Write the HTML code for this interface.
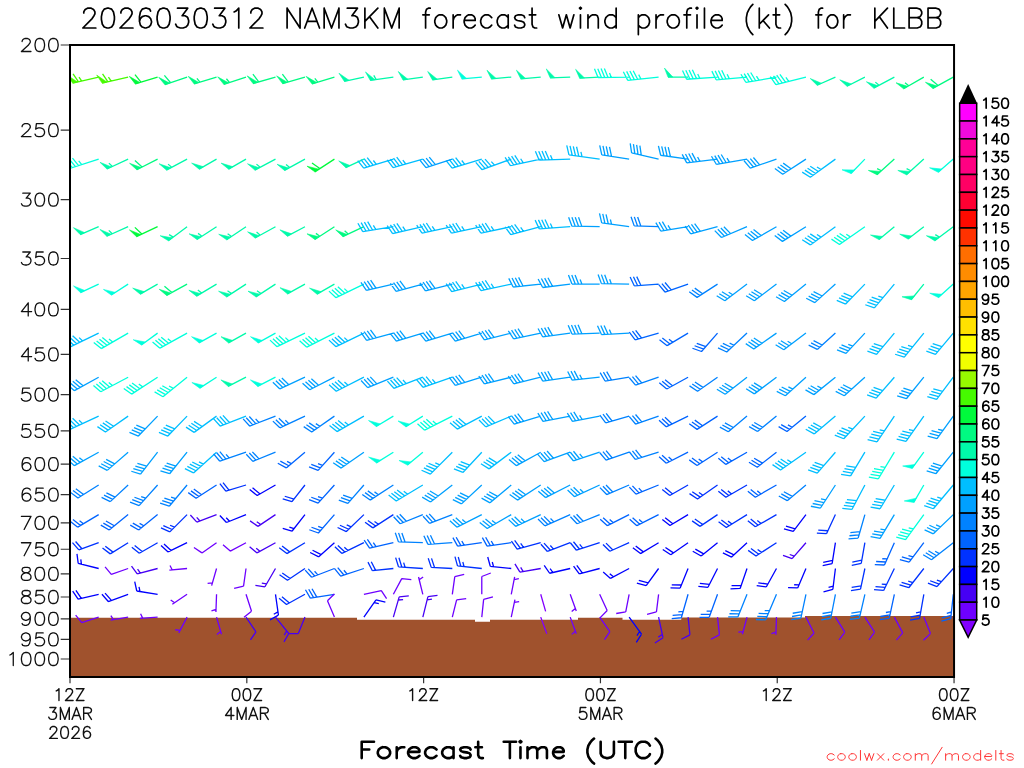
<!DOCTYPE html>
<html><head><meta charset="utf-8"><title>2026030312 NAM3KM forecast wind profile (kt) for KLBB</title>
<style>
html,body{margin:0;padding:0;background:#fff;overflow:hidden}
body{width:1024px;height:768px;position:relative;font-family:"Liberation Sans",sans-serif}
svg{position:absolute;left:0;top:0;display:block}
.t{position:absolute;color:transparent;font-family:"Liberation Sans",sans-serif;white-space:nowrap;margin:0;line-height:1}
</style></head><body>
<svg width="1024" height="768" viewBox="0 0 1024 768">
<rect width="1024" height="768" fill="#fff"/>
<path d="M70 677L70 617.75L357 617.75L357 619.75L475 619.75L475 621.75L490 621.75L490 619.75L578 619.75L578 617.75L622.5 617.75L622.5 619.75L681.25 619.75L681.25 617.6L805 617.6L805 616.1L954.05 616.1L954.05 677Z" fill="#a0522d"/>
<clipPath id="fc"><rect x="70" y="45" width="884.05" height="632"/></clipPath>
<g clip-path="url(#fc)" fill="none" stroke-width="1.3" stroke-linecap="butt" stroke-linejoin="miter">
<path d="M98.67 77.1L72.65 83.11M78.5 81.76l-5.43 -7.98M81.72 81.01l-2.72 -3.99M128.14 77.1L102.12 83.11M107.97 81.76l-5.43 -7.98M111.19 81.01l-2.72 -3.99" stroke="#46fa00"/>
<path d="M157.61 77.1L135.23 83.94M140.97 82.19l-5.98 -7.58M334.43 159.1L314.81 171.84M319.84 168.58l-7.84 -5.64M157.61 226.7L136.4 236.59M141.84 234.05l-6.98 -6.68" stroke="#00fa3c"/>
<path d="M187.08 77.1L164.95 84.72M170.63 82.76l-6.24 -7.37M216.55 77.1L194.17 83.94M199.91 82.19l-2.99 -3.79M246.02 77.1L223.77 84.33M229.47 82.48l-3.05 -3.74M275.49 77.1L253 83.55M258.76 81.9l-5.85 -7.69M304.96 77.1L282.47 83.55M288.23 81.9l-5.85 -7.69M334.43 77.1L312.05 83.94M317.79 82.19l-2.99 -3.79M923.83 77.1L903.57 88.8M908.76 85.8l-3.77 -3.02M953.3 77.1L932.83 88.44M938.08 85.54l-7.42 -6.17M157.61 159.1L136.76 169.72M142.11 167l-7.2 -6.43M894.36 159.1L876.97 174.76M881.43 170.74l-4.31 -2.17M334.43 226.7L314.81 239.44M319.84 236.18l-3.92 -2.82M363.9 226.7L342.69 236.59M348.13 234.05l-3.49 -3.34M187.08 284.1L166.61 295.44M171.86 292.54l-7.42 -6.17" stroke="#00fa82"/>
<path d="M363.9 77.1L344.24 81.28M393.37 77.1L370.2 80.36M376.14 79.52l-2.36 -4.21M422.84 77.1L402.94 79.9M452.31 77.1L432.41 79.9M511.25 77.1L491.23 78.85M540.72 77.1L520.7 78.85M570.19 77.1L550.1 77.8M599.66 77.1L579.59 78.15M688.07 77.1L667.97 77.1M835.42 77.1L817.06 85.28M864.89 77.1L846.98 86.23M894.36 77.1L873.7 88.09M879 85.27l-3.66 -3.15M128.14 159.1L106.93 168.99M112.37 166.45l-3.49 -3.34M187.08 159.1L166.42 170.09M171.72 167.27l-3.66 -3.15M216.55 159.1L199.14 169.15M246.02 159.1L228.61 169.15M275.49 159.1L254.83 170.09M260.13 167.27l-3.66 -3.15M304.96 159.1L284.49 170.44M289.74 167.54l-3.71 -3.09M363.9 159.1L345.68 167.59M923.83 159.1L906.44 174.76M910.9 170.74l-4.31 -2.17M98.67 226.7L80.17 234.55M128.14 226.7L106.76 236.22M112.24 233.78l-3.43 -3.4M187.08 226.7L168.39 240.78M173.18 237.17l-4.11 -2.54M216.55 226.7L196.93 239.44M201.96 236.18l-3.92 -2.82M246.02 226.7L226.62 239.79M231.59 236.43l-3.97 -2.75M275.49 226.7L255.02 238.04M260.27 235.14l-3.71 -3.09M304.96 226.7L287.21 236.14M894.36 226.7L878.96 239.62M923.83 226.7L907.99 239.07M953.3 226.7L934.61 240.78M939.4 237.17l-4.11 -2.54M157.61 284.1L140.2 294.15M216.55 284.1L196.49 296.15M201.64 293.06l-3.82 -2.96M246.02 284.1L226.4 296.84M231.43 293.58l-3.92 -2.82M275.49 284.1L255.87 296.84M260.9 293.58l-3.92 -2.82M304.96 284.1L287.38 293.84M334.43 284.1L317.02 294.15M923.83 284.1L911.18 299.72M246.02 333.1L228.44 342.84M246.02 377.2L228.11 386.33" stroke="#00faaa"/>
<path d="M481.78 77.1L461.76 78.85M629.13 77.1L598.13 77.64M598.13 77.64l-3.66 -8.94M601.43 77.58l-3.66 -8.94M604.73 77.53l-3.66 -8.94M608.03 77.47l-3.66 -8.94M611.33 77.41l-1.83 -4.47M658.6 77.1L627.77 80.34M627.77 80.34l-4.42 -8.58M631.05 80l-4.42 -8.58M634.33 79.65l-4.42 -8.58M637.62 79.31l-4.42 -8.58M640.9 78.96l-2.21 -4.29M717.54 77.1L686.62 79.26M686.62 79.26l-4.12 -8.73M689.91 79.03l-4.12 -8.73M693.2 78.8l-4.12 -8.73M696.49 78.57l-4.12 -8.73M699.78 78.34l-2.06 -4.37M747.01 77.1L716.13 79.8M716.13 79.8l-4.27 -8.66M719.42 79.51l-4.27 -8.66M722.7 79.23l-4.27 -8.66M725.99 78.94l-4.27 -8.66M729.28 78.65l-2.14 -4.33M776.48 77.1L745.95 82.48M745.95 82.48l-5.01 -8.26M749.2 81.91l-5.01 -8.26M752.45 81.34l-5.01 -8.26M755.7 80.76l-5.01 -8.26M758.95 80.19l-2.5 -4.13M805.95 77.1L775.87 84.6M775.87 84.6l-5.57 -7.89M779.07 83.8l-5.57 -7.89M782.27 83l-5.57 -7.89M785.48 82.2l-5.57 -7.89M788.68 81.41l-2.79 -3.94M98.67 159.1L69.19 168.68M69.19 168.68l-6.11 -7.48M72.33 167.66l-6.11 -7.48M75.46 166.64l-6.11 -7.48M78.6 165.62l-6.11 -7.48M81.74 164.6l-3.05 -3.74M864.89 159.1L850.93 173.56M953.3 159.1L938.13 172.29M864.89 226.7L839.5 244.48M839.5 244.48l-8.03 -5.36M842.2 242.59l-8.03 -5.36M844.9 240.7l-8.03 -5.36M847.61 238.8l-8.03 -5.36M850.31 236.91l-4.01 -2.68M98.67 284.1L80.45 292.59M128.14 284.1L111.28 295.05M363.9 284.1L336.04 297.69M336.04 297.69l-7.09 -6.55M339 296.24l-7.09 -6.55M341.97 294.8l-7.09 -6.55M344.94 293.35l-7.09 -6.55M347.9 291.9l-3.55 -3.28M953.3 284.1L938.36 297.55M128.14 333.1L101.29 348.6M101.29 348.6l-7.53 -6.04M104.15 346.95l-7.53 -6.04M107.01 345.3l-7.53 -6.04M109.87 343.65l-7.53 -6.04M112.72 342l-3.77 -3.02M157.61 333.1L141.35 344.91M187.08 333.1L159.97 348.13M159.97 348.13l-7.42 -6.17M162.85 346.53l-7.42 -6.17M165.74 344.93l-7.42 -6.17M168.63 343.33l-7.42 -6.17M171.51 341.73l-3.71 -3.09M216.55 333.1L198.97 342.84M275.49 333.1L257.91 342.84M304.96 333.1L277.1 346.69M277.1 346.69l-7.09 -6.55M280.06 345.24l-7.09 -6.55M283.03 343.8l-7.09 -6.55M286 342.35l-7.09 -6.55M288.96 340.9l-3.55 -3.28M334.43 333.1L306.81 347.17M306.81 347.17l-7.2 -6.43M309.75 345.68l-7.2 -6.43M312.69 344.18l-7.2 -6.43M315.63 342.68l-7.2 -6.43M318.57 341.18l-3.6 -3.22M128.14 377.2L100.77 391.75M100.77 391.75l-7.32 -6.3M103.68 390.2l-7.32 -6.3M106.6 388.66l-7.32 -6.3M109.51 387.11l-7.32 -6.3M112.42 385.56l-3.66 -3.15M157.61 377.2L131.61 394.08M131.61 394.08l-7.84 -5.64M134.38 392.29l-7.84 -5.64M137.15 390.49l-7.84 -5.64M139.91 388.69l-7.84 -5.64M142.68 386.89l-3.92 -2.82M187.08 377.2L162.99 396.71M162.99 396.71l-8.38 -4.79M165.55 394.63l-8.38 -4.79M168.12 392.56l-8.38 -4.79M170.68 390.48l-8.38 -4.79M173.25 388.4l-4.19 -2.4M216.55 377.2L199.69 388.15M275.49 377.2L257.58 386.33M393.37 416.1L376.14 426.45M422.84 416.1L405.79 426.75M452.31 416.1L424.69 430.17M424.69 430.17l-7.2 -6.43M427.63 428.68l-7.2 -6.43M430.57 427.18l-7.2 -6.43M433.51 425.68l-7.2 -6.43M436.45 424.18l-3.6 -3.22M393.37 452.2L376.32 462.85M422.84 452.2L407.44 465.12M894.36 452.2L878.39 478.77M878.39 478.77l-9.52 -1.64M880.09 475.94l-9.52 -1.64M881.79 473.11l-9.52 -1.64M883.49 470.29l-9.52 -1.64M885.19 467.46l-4.76 -0.82M923.83 452.2L912.02 468.46M923.83 485L913.78 502.41M923.83 514.6L905.61 539.68M905.61 539.68l-9.34 -2.46M907.55 537.01l-9.34 -2.46M909.49 534.34l-9.34 -2.46M911.43 531.67l-9.34 -2.46M913.37 529l-4.67 -1.23" stroke="#00ffdc"/>
<path d="M393.37 159.1L363.72 168.16M363.72 168.16l-5.98 -7.58M366.88 167.2l-5.98 -7.58M370.04 166.23l-5.98 -7.58M373.19 165.27l-5.98 -7.58M376.35 164.3l-2.99 -3.79M422.84 159.1L393.04 167.64M393.04 167.64l-5.85 -7.69M396.21 166.74l-5.85 -7.69M399.39 165.83l-5.85 -7.69M402.56 164.92l-5.85 -7.69M405.73 164.01l-2.92 -3.84M481.78 159.1L452.13 168.16M452.13 168.16l-5.98 -7.58M455.29 167.2l-5.98 -7.58M458.45 166.23l-5.98 -7.58M461.6 165.27l-5.98 -7.58M464.76 164.3l-2.99 -3.79M511.25 159.1L482.12 169.7M482.12 169.7l-6.37 -7.26M485.22 168.57l-6.37 -7.26M488.32 167.45l-6.37 -7.26M491.42 166.32l-6.37 -7.26M494.52 165.19l-3.18 -3.63M540.72 159.1L510.4 165.55M510.4 165.55l-5.29 -8.08M513.63 164.86l-5.29 -8.08M516.85 164.17l-5.29 -8.08M520.08 163.49l-5.29 -8.08M523.31 162.8l-2.65 -4.04M570.19 159.1L539.21 160.18M539.21 160.18l-3.81 -8.87M542.51 160.07l-3.81 -8.87M545.8 159.95l-3.81 -8.87M549.1 159.84l-3.81 -8.87M552.4 159.72l-1.91 -4.44M599.66 159.1L568.96 154.79M568.96 154.79l-2.21 -9.4M572.23 155.24l-2.21 -9.4M575.5 155.7l-2.21 -9.4M578.77 156.16l-2.21 -9.4M582.03 156.62l-1.11 -4.7M835.42 159.1L810.34 177.32M810.34 177.32l-8.12 -5.22M813.01 175.38l-8.12 -5.22M815.68 173.44l-8.12 -5.22M818.35 171.5l-8.12 -5.22M821.02 169.56l-4.06 -2.61M393.37 226.7L362.75 231.55M362.75 231.55l-4.86 -8.34M366.01 231.03l-4.86 -8.34M369.27 230.52l-4.86 -8.34M372.53 230l-4.86 -8.34M375.79 229.48l-2.43 -4.17M422.84 226.7L392.63 233.67M392.63 233.67l-5.43 -7.98M395.85 232.93l-5.43 -7.98M399.07 232.19l-5.43 -7.98M402.28 231.45l-5.43 -7.98M405.5 230.7l-2.72 -3.99M452.31 226.7L421.99 233.15M421.99 233.15l-5.29 -8.08M425.22 232.46l-5.29 -8.08M428.44 231.77l-5.29 -8.08M431.67 231.09l-5.29 -8.08M434.9 230.4l-2.65 -4.04M481.78 226.7L451.46 233.15M451.46 233.15l-5.29 -8.08M454.69 232.46l-5.29 -8.08M457.91 231.77l-5.29 -8.08M461.14 231.09l-5.29 -8.08M464.37 230.4l-2.65 -4.04M511.25 226.7L480.93 233.15M480.93 233.15l-5.29 -8.08M484.16 232.46l-5.29 -8.08M487.38 231.77l-5.29 -8.08M490.61 231.09l-5.29 -8.08M493.84 230.4l-2.65 -4.04M540.72 226.7L510.78 234.72M510.78 234.72l-5.71 -7.79M513.96 233.87l-5.71 -7.79M517.15 233.02l-5.71 -7.79M520.34 232.16l-5.71 -7.79M523.53 231.31l-2.86 -3.89M570.19 226.7L539.27 228.86M539.27 228.86l-4.12 -8.73M542.56 228.63l-4.12 -8.73M545.85 228.4l-4.12 -8.73M549.14 228.17l-4.12 -8.73M552.43 227.94l-2.06 -4.37M835.42 226.7L810.34 244.92M810.34 244.92l-8.12 -5.22M813.01 242.98l-8.12 -5.22M815.68 241.04l-8.12 -5.22M818.35 239.1l-8.12 -5.22M821.02 237.16l-4.06 -2.61M481.78 284.1L451.7 291.6M451.7 291.6l-5.57 -7.89M454.9 290.8l-5.57 -7.89M458.1 290l-5.57 -7.89M461.31 289.2l-5.57 -7.89M464.51 288.41l-2.79 -3.94M511.25 284.1L480.93 290.55M480.93 290.55l-5.29 -8.08M484.16 289.86l-5.29 -8.08M487.38 289.17l-5.29 -8.08M490.61 288.49l-5.29 -8.08M493.84 287.8l-2.65 -4.04M864.89 284.1L845.65 304.03M845.65 304.03l-8.91 -3.73M847.94 301.65l-8.91 -3.73M850.23 299.28l-8.91 -3.73M852.53 296.9l-8.91 -3.73M894.36 284.1L874.43 307.85M874.43 307.85l-9.14 -3.1M876.55 305.32l-9.14 -3.1M878.68 302.79l-9.14 -3.1M880.8 300.26l-9.14 -3.1M882.92 297.74l-4.57 -1.55M98.67 333.1L70.81 346.69M70.81 346.69l-7.09 -6.55M73.77 345.24l-7.09 -6.55M76.74 343.8l-7.09 -6.55M79.71 342.35l-7.09 -6.55M82.67 340.9l-3.55 -3.28M363.9 333.1L336.04 346.69M336.04 346.69l-7.09 -6.55M339 345.24l-7.09 -6.55M341.97 343.8l-7.09 -6.55M344.94 342.35l-7.09 -6.55M347.9 340.9l-3.55 -3.28M894.36 333.1L876.55 354.32M876.55 354.32l-9.14 -3.1M878.68 351.79l-9.14 -3.1M880.8 349.26l-9.14 -3.1M882.92 346.74l-9.14 -3.1M923.83 333.1L904.32 357.19M904.32 357.19l-9.2 -2.94M906.4 354.63l-9.2 -2.94M908.47 352.06l-9.2 -2.94M910.55 349.5l-9.2 -2.94M912.63 346.93l-4.6 -1.47M953.3 333.1L935.49 354.32M935.49 354.32l-9.14 -3.1M937.62 351.79l-9.14 -3.1M939.74 349.26l-9.14 -3.1M941.86 346.74l-9.14 -3.1M363.9 377.2L336.28 391.27M336.28 391.27l-7.2 -6.43M339.22 389.78l-7.2 -6.43M342.16 388.28l-7.2 -6.43M345.1 386.78l-7.2 -6.43M348.04 385.28l-3.6 -3.22M422.84 377.2L393.9 388.31M393.9 388.31l-6.49 -7.15M396.98 387.13l-6.49 -7.15M400.06 385.94l-6.49 -7.15M403.14 384.76l-6.49 -7.15M406.22 383.58l-3.25 -3.57M452.31 377.2L423 387.29M423 387.29l-6.24 -7.37M426.12 386.22l-6.24 -7.37M429.24 385.14l-6.24 -7.37M432.36 384.07l-6.24 -7.37M435.48 383l-3.12 -3.69M894.36 377.2L876.19 398.11M876.19 398.11l-9.09 -3.26M878.35 395.61l-9.09 -3.26M880.52 393.12l-9.09 -3.26M882.68 390.63l-9.09 -3.26M953.3 377.2L936.63 399.32M936.63 399.32l-9.29 -2.62M938.62 396.69l-9.29 -2.62M940.6 394.05l-9.29 -2.62M942.59 391.42l-9.29 -2.62M98.67 416.1L70.57 429.2M70.57 429.2l-6.98 -6.68M73.57 427.81l-6.98 -6.68M76.56 426.41l-6.98 -6.68M79.55 425.02l-6.98 -6.68M82.54 423.62l-3.49 -3.34M128.14 416.1L105.45 431.99M105.45 431.99l-8.03 -5.36M108.15 430.1l-8.03 -5.36M110.86 428.2l-8.03 -5.36M113.56 426.31l-8.03 -5.36M187.08 416.1L167.84 436.03M167.84 436.03l-8.91 -3.73M170.13 433.65l-8.91 -3.73M172.42 431.28l-8.91 -3.73M174.72 428.9l-8.91 -3.73M216.55 416.1L194.14 432.38M194.14 432.38l-8.12 -5.22M196.81 430.44l-8.12 -5.22M199.48 428.5l-8.12 -5.22M202.15 426.56l-8.12 -5.22M246.02 416.1L220.16 426.03M220.16 426.03l-6.49 -7.15M223.24 424.84l-6.49 -7.15M226.32 423.66l-6.49 -7.15M229.4 422.48l-6.49 -7.15M363.9 416.1L337.05 431.6M337.05 431.6l-7.53 -6.04M339.91 429.95l-7.53 -6.04M342.77 428.3l-7.53 -6.04M345.63 426.65l-7.53 -6.04M348.48 425l-3.77 -3.02M481.78 416.1L457.32 429.1M457.32 429.1l-7.32 -6.3M460.24 427.56l-7.32 -6.3M463.15 426.01l-7.32 -6.3M466.06 424.46l-7.32 -6.3M511.25 416.1L485.75 426.92M485.75 426.92l-6.74 -6.92M488.79 425.63l-6.74 -6.92M491.83 424.34l-6.74 -6.92M494.87 423.06l-6.74 -6.92M835.42 416.1L814.2 433.91M814.2 433.91l-8.47 -4.64M816.73 431.78l-8.47 -4.64M819.26 429.66l-8.47 -4.64M821.78 427.54l-8.47 -4.64M864.89 416.1L843.75 438.77M843.75 438.77l-8.97 -3.58M846 436.36l-8.97 -3.58M848.25 433.95l-8.97 -3.58M850.5 431.53l-8.97 -3.58M852.75 429.12l-4.48 -1.79M894.36 416.1L877.03 441.8M877.03 441.8l-9.42 -2.13M878.87 439.06l-9.42 -2.13M880.72 436.33l-9.42 -2.13M882.56 433.59l-9.42 -2.13M884.41 430.86l-4.71 -1.07M923.83 416.1L906.05 441.49M906.05 441.49l-9.38 -2.3M907.94 438.79l-9.38 -2.3M909.83 436.09l-9.38 -2.3M911.73 433.38l-9.38 -2.3M913.62 430.68l-4.69 -1.15M216.55 452.2L193.51 472.94M193.51 472.94l-8.62 -4.35M195.96 470.73l-8.62 -4.35M198.42 468.53l-8.62 -4.35M200.87 466.32l-8.62 -4.35M203.32 464.11l-4.31 -2.17M452.31 452.2L430.39 474.12M430.39 474.12l-8.84 -3.89M432.72 471.79l-8.84 -3.89M435.06 469.45l-8.84 -3.89M437.39 467.12l-8.84 -3.89M439.72 464.79l-4.42 -1.94M481.78 452.2L462.89 472.46M462.89 472.46l-8.97 -3.58M465.14 470.05l-8.97 -3.58M467.39 467.63l-8.97 -3.58M469.64 465.22l-8.97 -3.58M511.25 452.2L489.13 468.87M489.13 468.87l-8.21 -5.08M491.76 466.88l-8.21 -5.08M494.4 464.9l-8.21 -5.08M497.03 462.91l-8.21 -5.08M805.95 452.2L780.56 469.98M780.56 469.98l-8.03 -5.36M783.26 468.09l-8.03 -5.36M785.96 466.2l-8.03 -5.36M788.67 464.3l-8.03 -5.36M791.37 462.41l-4.01 -2.68M835.42 452.2L817.25 473.11M817.25 473.11l-9.09 -3.26M819.41 470.61l-9.09 -3.26M821.58 468.12l-9.09 -3.26M823.74 465.63l-9.09 -3.26M864.89 452.2L850.62 475.94M850.62 475.94l-9.52 -1.64M852.32 473.11l-9.52 -1.64M854.02 470.29l-9.52 -1.64M855.72 467.46l-9.52 -1.64M422.84 485L396.27 500.97M396.27 500.97l-7.64 -5.91M399.1 499.27l-7.64 -5.91M401.93 497.57l-7.64 -5.91M404.75 495.87l-7.64 -5.91M407.58 494.17l-3.82 -2.96M864.89 485L851.89 509.46M851.89 509.46l-9.59 -1.13M853.43 506.54l-9.59 -1.13M854.98 503.63l-9.59 -1.13M856.53 500.72l-9.59 -1.13M894.36 485L880.09 508.74M880.09 508.74l-9.52 -1.64M881.79 505.91l-9.52 -1.64M883.49 503.09l-9.52 -1.64M885.19 500.26l-9.52 -1.64M953.3 485L933.37 508.75M933.37 508.75l-9.14 -3.1M935.49 506.22l-9.14 -3.1M937.62 503.69l-9.14 -3.1M939.74 501.16l-9.14 -3.1M941.86 498.64l-4.57 -1.55" stroke="#00beff"/>
<path d="M452.31 159.1L425.97 167.66M425.97 167.66l-6.11 -7.48M429.1 166.64l-6.11 -7.48M432.24 165.62l-6.11 -7.48M435.38 164.6l-6.11 -7.48M629.13 159.1L601.77 154.77M601.77 154.77l-2.05 -9.44M605.03 155.28l-2.05 -9.44M608.29 155.8l-2.05 -9.44M611.55 156.32l-2.05 -9.44M658.6 159.1L631.61 152.87M631.61 152.87l-1.39 -9.56M634.83 153.61l-1.39 -9.56M638.04 154.35l-1.39 -9.56M641.26 155.1l-1.39 -9.56M688.07 159.1L660.64 155.24M660.64 155.24l-2.21 -9.4M663.91 155.7l-2.21 -9.4M667.18 156.16l-2.21 -9.4M670.44 156.62l-2.21 -9.4M717.54 159.1L686.77 162.88M686.77 162.88l-4.57 -8.51M690.05 162.48l-4.57 -8.51M693.32 162.07l-4.57 -8.51M696.6 161.67l-4.57 -8.51M699.87 161.27l-2.29 -4.25M747.01 159.1L716.48 164.48M716.48 164.48l-5.01 -8.26M719.73 163.91l-5.01 -8.26M722.98 163.34l-5.01 -8.26M726.23 162.76l-5.01 -8.26M729.48 162.19l-2.5 -4.13M776.48 159.1L750.29 168.12M750.29 168.12l-6.24 -7.37M753.41 167.04l-6.24 -7.37M756.53 165.97l-6.24 -7.37M759.65 164.9l-6.24 -7.37M805.95 159.1L782.72 174.19M782.72 174.19l-7.84 -5.64M785.49 172.39l-7.84 -5.64M788.25 170.59l-7.84 -5.64M791.02 168.79l-7.84 -5.64M599.66 226.7L571.96 226.22M571.96 226.22l-3.34 -9.06M575.26 226.27l-3.34 -9.06M578.56 226.33l-3.34 -9.06M581.86 226.39l-3.34 -9.06M629.13 226.7L601.7 222.84M601.7 222.84l-2.21 -9.4M604.97 223.3l-2.21 -9.4M608.24 223.76l-2.21 -9.4M611.5 224.22l-1.11 -4.7M688.07 226.7L660.71 231.03M660.71 231.03l-4.86 -8.34M663.97 230.52l-4.86 -8.34M667.23 230l-4.86 -8.34M670.49 229.48l-2.43 -4.17M717.54 226.7L690.78 233.87M690.78 233.87l-5.71 -7.79M693.97 233.02l-5.71 -7.79M697.16 232.16l-5.71 -7.79M700.35 231.31l-5.71 -7.79M747.01 226.7L721.51 237.52M721.51 237.52l-6.74 -6.92M724.55 236.23l-6.74 -6.92M727.59 234.94l-6.74 -6.92M730.63 233.66l-6.74 -6.92M776.48 226.7L752.49 240.55M752.49 240.55l-7.53 -6.04M755.35 238.9l-7.53 -6.04M758.21 237.25l-7.53 -6.04M761.06 235.6l-7.53 -6.04M805.95 226.7L782.46 241.38M782.46 241.38l-7.74 -5.78M785.26 239.63l-7.74 -5.78M788.06 237.88l-7.74 -5.78M790.85 236.13l-7.74 -5.78M393.37 284.1L366.38 290.33M366.38 290.33l-5.43 -7.98M369.6 289.59l-5.43 -7.98M372.81 288.85l-5.43 -7.98M376.03 288.1l-5.43 -7.98M422.84 284.1L396.08 291.27M396.08 291.27l-5.71 -7.79M399.27 290.42l-5.71 -7.79M402.46 289.56l-5.71 -7.79M405.65 288.71l-5.71 -7.79M452.31 284.1L425.43 290.8M425.43 290.8l-5.57 -7.89M428.63 290l-5.57 -7.89M431.84 289.2l-5.57 -7.89M435.04 288.41l-5.57 -7.89M540.72 284.1L513.17 287M513.17 287l-4.42 -8.58M516.45 286.65l-4.42 -8.58M519.74 286.31l-4.42 -8.58M523.02 285.96l-4.42 -8.58M570.19 284.1L542.7 287.48M542.7 287.48l-4.57 -8.51M545.97 287.07l-4.57 -8.51M549.25 286.67l-4.57 -8.51M552.52 286.27l-4.57 -8.51M599.66 284.1L571.96 284.1M571.96 284.1l-3.5 -9M575.26 284.1l-3.5 -9M578.56 284.1l-3.5 -9M581.86 284.1l-1.75 -4.5M629.13 284.1L601.43 283.62M601.43 283.62l-3.34 -9.06M604.73 283.67l-3.34 -9.06M608.03 283.73l-3.34 -9.06M611.33 283.79l-1.67 -4.53M747.01 284.1L724.89 300.77M724.89 300.77l-8.21 -5.08M727.52 298.78l-8.21 -5.08M730.16 296.8l-8.21 -5.08M732.79 294.81l-4.11 -2.54M776.48 284.1L754.36 300.77M754.36 300.77l-8.21 -5.08M756.99 298.78l-8.21 -5.08M759.63 296.8l-8.21 -5.08M762.26 294.81l-8.21 -5.08M805.95 284.1L784.42 301.53M784.42 301.53l-8.38 -4.79M786.99 299.46l-8.38 -4.79M789.55 297.38l-8.38 -4.79M792.12 295.3l-8.38 -4.79M835.42 284.1L814.83 302.63M814.83 302.63l-8.62 -4.35M817.29 300.43l-8.62 -4.35M819.74 298.22l-8.62 -4.35M822.19 296.01l-8.62 -4.35M393.37 333.1L366.61 340.27M366.61 340.27l-5.71 -7.79M369.8 339.42l-5.71 -7.79M372.99 338.56l-5.71 -7.79M376.18 337.71l-5.71 -7.79M422.84 333.1L396.35 341.2M396.35 341.2l-5.98 -7.58M399.51 340.23l-5.98 -7.58M402.66 339.27l-5.98 -7.58M405.82 338.3l-5.98 -7.58M452.31 333.1L425.82 341.2M425.82 341.2l-5.98 -7.58M428.98 340.23l-5.98 -7.58M432.13 339.27l-5.98 -7.58M435.29 338.3l-5.98 -7.58M481.78 333.1L455.29 341.2M455.29 341.2l-5.98 -7.58M458.45 340.23l-5.98 -7.58M461.6 339.27l-5.98 -7.58M464.76 338.3l-5.98 -7.58M511.25 333.1L484.37 339.8M484.37 339.8l-5.57 -7.89M487.57 339l-5.57 -7.89M490.78 338.2l-5.57 -7.89M493.98 337.41l-5.57 -7.89M540.72 333.1L513.63 338.86M513.63 338.86l-5.29 -8.08M516.85 338.17l-5.29 -8.08M520.08 337.49l-5.29 -8.08M523.31 336.8l-5.29 -8.08M570.19 333.1L542.76 336.96M542.76 336.96l-4.72 -8.43M546.03 336.5l-4.72 -8.43M549.3 336.04l-4.72 -8.43M552.56 335.58l-4.72 -8.43M599.66 333.1L571.98 334.07M571.98 334.07l-3.81 -8.87M575.27 333.95l-3.81 -8.87M578.57 333.84l-3.81 -8.87M581.87 333.72l-3.81 -8.87M629.13 333.1L601.47 334.55M601.47 334.55l-3.97 -8.8M604.76 334.38l-3.97 -8.8M608.06 334.2l-3.97 -8.8M611.35 334.03l-1.98 -4.4M776.48 333.1L753.79 348.99M753.79 348.99l-8.03 -5.36M756.49 347.1l-8.03 -5.36M759.2 345.2l-8.03 -5.36M761.9 343.31l-8.03 -5.36M805.95 333.1L783.83 349.77M783.83 349.77l-8.21 -5.08M786.46 347.78l-8.21 -5.08M789.1 345.8l-8.21 -5.08M791.73 343.81l-4.11 -2.54M864.89 333.1L846 353.36M846 353.36l-8.97 -3.58M848.25 350.95l-8.97 -3.58M850.5 348.53l-8.97 -3.58M852.75 346.12l-4.48 -1.79M98.67 377.2L74.44 390.63M74.44 390.63l-7.42 -6.17M77.33 389.03l-7.42 -6.17M80.22 387.43l-7.42 -6.17M83.1 385.83l-7.42 -6.17M304.96 377.2L279.86 388.91M279.86 388.91l-6.98 -6.68M282.85 387.51l-6.98 -6.68M285.84 386.12l-6.98 -6.68M288.83 384.72l-6.98 -6.68M334.43 377.2L309.75 389.78M309.75 389.78l-7.2 -6.43M312.69 388.28l-7.2 -6.43M315.63 386.78l-7.2 -6.43M318.57 385.28l-7.2 -6.43M393.37 377.2L367.69 387.58M367.69 387.58l-6.62 -7.03M370.75 386.34l-6.62 -7.03M373.81 385.1l-6.62 -7.03M376.87 383.87l-6.62 -7.03M481.78 377.2L455.29 385.3M455.29 385.3l-5.98 -7.58M458.45 384.33l-5.98 -7.58M461.6 383.37l-5.98 -7.58M464.76 382.4l-5.98 -7.58M511.25 377.2L484.37 383.9M484.37 383.9l-5.57 -7.89M487.57 383.1l-5.57 -7.89M490.78 382.3l-5.57 -7.89M493.98 381.51l-5.57 -7.89M540.72 377.2L513.84 383.9M513.84 383.9l-5.57 -7.89M517.04 383.1l-5.57 -7.89M520.25 382.3l-5.57 -7.89M523.45 381.51l-5.57 -7.89M570.19 377.2L542.76 381.06M542.76 381.06l-4.72 -8.43M546.03 380.6l-4.72 -8.43M549.3 380.14l-4.72 -8.43M552.56 379.68l-4.72 -8.43M599.66 377.2L572.11 380.1M572.11 380.1l-4.42 -8.58M575.39 379.75l-4.42 -8.58M578.68 379.41l-4.42 -8.58M581.96 379.06l-2.21 -4.29M747.01 377.2L725.18 394.25M725.18 394.25l-8.3 -4.94M727.78 392.22l-8.3 -4.94M730.38 390.19l-8.3 -4.94M732.98 388.16l-8.3 -4.94M776.48 377.2L754.36 393.87M754.36 393.87l-8.21 -5.08M756.99 391.88l-8.21 -5.08M759.63 389.9l-8.21 -5.08M762.26 387.91l-8.21 -5.08M805.95 377.2L785.36 395.73M785.36 395.73l-8.62 -4.35M787.82 393.53l-8.62 -4.35M790.27 391.32l-8.62 -4.35M792.72 389.11l-4.31 -2.17M835.42 377.2L813.89 394.63M813.89 394.63l-8.38 -4.79M816.46 392.56l-8.38 -4.79M819.02 390.48l-8.38 -4.79M821.59 388.4l-4.19 -2.4M864.89 377.2L844.3 395.73M844.3 395.73l-8.62 -4.35M846.76 393.53l-8.62 -4.35M849.21 391.32l-8.62 -4.35M851.66 389.11l-8.62 -4.35M923.83 377.2L906.4 398.73M906.4 398.73l-9.2 -2.94M908.47 396.16l-9.2 -2.94M910.55 393.6l-9.2 -2.94M912.63 391.03l-9.2 -2.94M157.61 416.1L138.37 436.03M138.37 436.03l-8.91 -3.73M140.66 433.65l-8.91 -3.73M142.95 431.28l-8.91 -3.73M145.25 428.9l-8.91 -3.73M540.72 416.1L514.23 424.2M514.23 424.2l-5.98 -7.58M517.39 423.23l-5.98 -7.58M520.54 422.27l-5.98 -7.58M523.7 421.3l-5.98 -7.58M570.19 416.1L543 421.39M543 421.39l-5.15 -8.17M546.24 420.76l-5.15 -8.17M549.48 420.13l-5.15 -8.17M552.72 419.5l-5.15 -8.17M599.66 416.1L572.47 421.39M572.47 421.39l-5.15 -8.17M575.71 420.76l-5.15 -8.17M578.95 420.13l-5.15 -8.17M582.19 419.5l-2.58 -4.08M953.3 416.1L937.02 438.51M937.02 438.51l-9.34 -2.46M938.96 435.84l-9.34 -2.46M940.9 433.17l-9.34 -2.46M942.84 430.5l-4.67 -1.23M98.67 452.2L74.44 465.63M74.44 465.63l-7.42 -6.17M77.33 464.03l-7.42 -6.17M80.22 462.43l-7.42 -6.17M83.1 460.83l-3.71 -3.09M128.14 452.2L107.23 470.37M107.23 470.37l-8.55 -4.5M109.73 468.21l-8.55 -4.5M112.22 466.04l-8.55 -4.5M114.71 463.88l-8.55 -4.5M157.61 452.2L140.56 474.03M140.56 474.03l-9.25 -2.78M142.59 471.43l-9.25 -2.78M144.62 468.83l-9.25 -2.78M146.65 466.23l-9.25 -2.78M187.08 452.2L169.65 473.73M169.65 473.73l-9.2 -2.94M171.72 471.16l-9.2 -2.94M173.8 468.6l-9.2 -2.94M175.88 466.03l-9.2 -2.94M363.9 452.2L341.21 468.09M341.21 468.09l-8.03 -5.36M343.91 466.2l-8.03 -5.36M346.62 464.3l-8.03 -5.36M349.32 462.41l-8.03 -5.36M540.72 452.2L516.49 465.63M516.49 465.63l-7.42 -6.17M519.38 464.03l-7.42 -6.17M522.27 462.43l-7.42 -6.17M525.15 460.83l-7.42 -6.17M570.19 452.2L544.16 461.67M544.16 461.67l-6.37 -7.26M547.26 460.55l-6.37 -7.26M550.36 459.42l-6.37 -7.26M553.46 458.29l-6.37 -7.26M599.66 452.2L573.32 460.76M573.32 460.76l-6.11 -7.48M576.45 459.74l-6.11 -7.48M579.59 458.72l-6.11 -7.48M582.73 457.7l-3.05 -3.74M953.3 452.2L935.87 473.73M935.87 473.73l-9.2 -2.94M937.94 471.16l-9.2 -2.94M940.02 468.6l-9.2 -2.94M942.1 466.03l-9.2 -2.94M452.31 485L430.48 502.05M430.48 502.05l-8.3 -4.94M433.08 500.02l-8.3 -4.94M435.68 497.99l-8.3 -4.94M438.28 495.96l-8.3 -4.94M481.78 485L461.52 503.89M461.52 503.89l-8.7 -4.2M463.93 501.64l-8.7 -4.2M466.35 499.39l-8.7 -4.2M468.76 497.14l-8.7 -4.2M511.25 485L490.03 502.81M490.03 502.81l-8.47 -4.64M492.56 500.68l-8.47 -4.64M495.09 498.56l-8.47 -4.64M497.61 496.44l-8.47 -4.64M540.72 485L517.49 500.09M517.49 500.09l-7.84 -5.64M520.26 498.29l-7.84 -5.64M523.02 496.49l-7.84 -5.64M525.79 494.69l-7.84 -5.64M570.19 485L545.51 497.58M545.51 497.58l-7.2 -6.43M548.45 496.08l-7.2 -6.43M551.39 494.58l-7.2 -6.43M554.33 493.08l-7.2 -6.43M599.66 485L574.56 496.71M574.56 496.71l-6.98 -6.68M577.55 495.31l-6.98 -6.68M580.54 493.92l-6.98 -6.68M583.53 492.52l-3.49 -3.34M835.42 485L820.33 508.23M820.33 508.23l-9.45 -1.97M822.13 505.46l-9.45 -1.97M823.93 502.7l-9.45 -1.97M825.73 499.93l-4.73 -0.98M481.78 514.6L457.1 527.18M457.1 527.18l-7.2 -6.43M460.04 525.68l-7.2 -6.43M462.98 524.18l-7.2 -6.43M465.92 522.68l-3.6 -3.22M511.25 514.6L487.26 528.45M487.26 528.45l-7.53 -6.04M490.12 526.8l-7.53 -6.04M492.98 525.15l-7.53 -6.04M495.83 523.5l-3.77 -3.02M540.72 514.6L515.62 526.31M515.62 526.31l-6.98 -6.68M518.61 524.91l-6.98 -6.68M521.6 523.52l-6.98 -6.68M524.59 522.12l-3.49 -3.34M894.36 514.6L880.09 538.34M880.09 538.34l-9.52 -1.64M881.79 535.51l-9.52 -1.64M883.49 532.69l-9.52 -1.64M885.19 529.86l-4.76 -0.82M953.3 514.6L933.37 533.84M933.37 533.84l-8.77 -4.04M935.75 531.55l-8.77 -4.04M938.12 529.26l-8.77 -4.04M940.5 526.96l-4.38 -2.02" stroke="#00a0ff"/>
<path d="M658.6 226.7L634.21 225.85M634.21 225.85l-3.18 -9.12M637.51 225.96l-3.18 -9.12M640.81 226.08l-3.18 -9.12M717.54 284.1L697.08 297.39M697.08 297.39l-7.84 -5.64M699.84 295.59l-7.84 -5.64M702.61 293.79l-7.84 -5.64M747.01 333.1L726.75 351.99M726.75 351.99l-8.7 -4.2M729.16 349.74l-8.7 -4.2M731.58 347.49l-8.7 -4.2M733.99 345.24l-4.35 -2.1M835.42 333.1L817.29 349.43M817.29 349.43l-8.62 -4.35M819.74 347.22l-8.62 -4.35M822.19 345.01l-8.62 -4.35M629.13 377.2L605.03 381.02M605.03 381.02l-4.86 -8.34M608.29 380.5l-4.86 -8.34M611.55 379.98l-4.86 -8.34M658.6 377.2L635.53 385.14M635.53 385.14l-6.24 -7.37M638.65 384.07l-6.24 -7.37M641.77 383l-6.24 -7.37M717.54 377.2L697.55 391.2M697.55 391.2l-8.03 -5.36M700.26 389.3l-8.03 -5.36M702.96 387.41l-8.03 -5.36M275.49 416.1L249.63 426.03M249.63 426.03l-6.49 -7.15M252.71 424.84l-6.49 -7.15M255.79 423.66l-6.49 -7.15M258.87 422.48l-3.25 -3.57M304.96 416.1L279.86 427.81M279.86 427.81l-6.98 -6.68M282.85 426.41l-6.98 -6.68M285.84 425.02l-6.98 -6.68M288.83 423.62l-3.49 -3.34M334.43 416.1L311.74 431.99M311.74 431.99l-8.03 -5.36M314.44 430.1l-8.03 -5.36M317.15 428.2l-8.03 -5.36M319.85 426.31l-4.01 -2.68M629.13 416.1L605.68 422.83M605.68 422.83l-5.85 -7.69M608.85 421.92l-5.85 -7.69M612.02 421.01l-5.85 -7.69M658.6 416.1L635.53 424.04M635.53 424.04l-6.24 -7.37M638.65 422.97l-6.24 -7.37M641.77 421.9l-6.24 -7.37M747.01 416.1L728.32 431.78M728.32 431.78l-8.47 -4.64M730.85 429.66l-8.47 -4.64M733.37 427.54l-8.47 -4.64M776.48 416.1L757.52 431.46M757.52 431.46l-8.38 -4.79M760.08 429.38l-8.38 -4.79M762.65 427.3l-8.38 -4.79M246.02 452.2L219.83 461.22M219.83 461.22l-6.24 -7.37M222.95 460.14l-6.24 -7.37M226.07 459.07l-6.24 -7.37M229.19 458l-3.12 -3.69M275.49 452.2L252.87 461.34M252.87 461.34l-6.62 -7.03M255.93 460.1l-6.62 -7.03M258.99 458.87l-6.62 -7.03M629.13 452.2L606.06 460.14M606.06 460.14l-6.24 -7.37M609.18 459.07l-6.24 -7.37M612.3 458l-6.24 -7.37M658.6 452.2L635.27 459.33M635.27 459.33l-5.98 -7.58M638.42 458.37l-5.98 -7.58M641.58 457.4l-5.98 -7.58M98.67 485L77.98 497.93M77.98 497.93l-7.74 -5.78M80.78 496.18l-7.74 -5.78M83.57 494.43l-7.74 -5.78M128.14 485L110.29 501.64M110.29 501.64l-8.7 -4.2M112.71 499.39l-8.7 -4.2M115.12 497.14l-8.7 -4.2M157.61 485L139.08 505.59M139.08 505.59l-9.03 -3.42M141.28 503.13l-9.03 -3.42M143.49 500.68l-9.03 -3.42M145.7 498.23l-4.52 -1.71M187.08 485L169.27 506.22M169.27 506.22l-9.14 -3.1M171.4 503.69l-9.14 -3.1M173.52 501.16l-9.14 -3.1M175.64 498.64l-4.57 -1.55M363.9 485L347.89 503.41M347.89 503.41l-9.09 -3.26M350.06 500.92l-9.09 -3.26M352.22 498.43l-9.09 -3.26M393.37 485L370.14 500.09M370.14 500.09l-7.84 -5.64M372.91 498.29l-7.84 -5.64M375.67 496.49l-7.84 -5.64M378.44 494.69l-3.92 -2.82M629.13 485L606.67 494.53M606.67 494.53l-6.74 -6.92M609.71 493.24l-6.74 -6.92M612.75 491.96l-6.74 -6.92M805.95 485L787.26 500.68M787.26 500.68l-8.47 -4.64M789.79 498.56l-8.47 -4.64M792.31 496.44l-8.47 -4.64M422.84 514.6L400.22 523.74M400.22 523.74l-6.62 -7.03M403.28 522.5l-6.62 -7.03M406.34 521.27l-6.62 -7.03M452.31 514.6L429.53 523.34M429.53 523.34l-6.49 -7.15M432.61 522.16l-6.49 -7.15M435.69 520.98l-6.49 -7.15M570.19 514.6L544.88 525.87M544.88 525.87l-6.86 -6.8M547.9 524.52l-6.86 -6.8M550.91 523.18l-6.86 -6.8M553.93 521.84l-3.43 -3.4M599.66 514.6L577.04 523.74M577.04 523.74l-6.62 -7.03M580.1 522.5l-6.62 -7.03M583.16 521.27l-6.62 -7.03M864.89 514.6L858.16 538.05M858.16 538.05l-9.62 0.88M859.07 534.88l-9.62 0.88M859.98 531.71l-9.62 0.88M422.84 542.7L398.45 541.85M398.45 541.85l-3.18 -9.12M401.75 541.96l-3.18 -9.12M405.05 542.08l-3.18 -9.12M452.31 542.7L427.97 544.4M427.97 544.4l-4.12 -8.73M431.26 544.17l-4.12 -8.73M434.55 543.94l-4.12 -8.73M953.3 542.7L931.47 559.75M931.47 559.75l-8.3 -4.94M934.07 557.72l-8.3 -4.94M936.67 555.69l-8.3 -4.94M939.27 553.66l-4.15 -2.47M747.01 594.3L737.87 616.92M737.87 616.92l-9.66 -0.13M739.11 613.86l-9.66 -0.13M740.34 610.8l-9.66 -0.13M776.48 594.3L765.66 619.8M765.66 619.8l-9.65 -0.29M766.95 616.76l-9.65 -0.29M768.24 613.72l-9.65 -0.29M769.52 610.68l-4.83 -0.15M805.95 594.3L800.88 618.17M800.88 618.17l-9.53 1.55M801.56 614.94l-9.53 1.55M802.25 611.71l-9.53 1.55M835.42 594.3L830.76 618.25M830.76 618.25l-9.5 1.72M831.39 615.01l-9.5 1.72M832.02 611.77l-9.5 1.72M864.89 594.3L859.4 618.07M859.4 618.07l-9.56 1.39M860.14 614.86l-9.56 1.39M860.89 611.64l-9.56 1.39" stroke="#0082ff"/>
<path d="M658.6 284.1L634.26 285.8M634.26 285.8l-4.12 -8.73M637.55 285.57l-4.12 -8.73M640.84 285.34l-4.12 -8.73M688.07 284.1L665 292.04M665 292.04l-6.24 -7.37M668.12 290.97l-6.24 -7.37M671.24 289.9l-6.24 -7.37M658.6 333.1L635.15 339.83M635.15 339.83l-5.85 -7.69M638.32 338.92l-5.85 -7.69M641.49 338.01l-5.85 -7.69M688.07 333.1L667.16 345.67M667.16 345.67l-7.64 -5.91M669.98 343.97l-7.64 -5.91M672.81 342.27l-3.82 -2.96M717.54 333.1L701.53 351.51M701.53 351.51l-9.09 -3.26M703.7 349.02l-9.09 -3.26M705.86 346.53l-9.09 -3.26M688.07 377.2L666.73 389.03M666.73 389.03l-7.42 -6.17M669.62 387.43l-7.42 -6.17M672.5 385.83l-7.42 -6.17M688.07 416.1L666.14 426.8M666.14 426.8l-7.09 -6.55M669.11 425.35l-7.09 -6.55M672.07 423.9l-7.09 -6.55M717.54 416.1L697.08 429.39M697.08 429.39l-7.84 -5.64M699.84 427.59l-7.84 -5.64M702.61 425.79l-7.84 -5.64M805.95 416.1L786.99 431.46M786.99 431.46l-8.38 -4.79M789.55 429.38l-8.38 -4.79M792.12 427.3l-4.19 -2.4M304.96 452.2L286.27 467.88M286.27 467.88l-8.47 -4.64M288.8 465.76l-8.47 -4.64M291.32 463.64l-4.23 -2.32M334.43 452.2L318.1 470.33M318.1 470.33l-9.03 -3.42M320.31 467.88l-9.03 -3.42M322.52 465.43l-4.52 -1.71M688.07 452.2L666.33 463.28M666.33 463.28l-7.2 -6.43M669.27 461.78l-7.2 -6.43M672.21 460.28l-3.6 -3.22M717.54 452.2L697.08 465.49M697.08 465.49l-7.84 -5.64M699.84 463.69l-7.84 -5.64M702.61 461.89l-3.92 -2.82M747.01 452.2L725.88 464.4M725.88 464.4l-7.53 -6.04M728.74 462.75l-7.53 -6.04M731.59 461.1l-3.77 -3.02M776.48 452.2L757.25 467.22M757.25 467.22l-8.3 -4.94M759.85 465.19l-8.3 -4.94M762.45 463.16l-8.3 -4.94M216.55 485L196.09 498.29M196.09 498.29l-7.84 -5.64M198.85 496.49l-7.84 -5.64M201.62 494.69l-7.84 -5.64M334.43 485L318.1 503.13M318.1 503.13l-9.03 -3.42M320.31 500.68l-9.03 -3.42M322.52 498.23l-4.52 -1.71M658.6 485L635.98 494.14M635.98 494.14l-6.62 -7.03M639.04 492.9l-6.62 -7.03M642.1 491.67l-3.31 -3.52M776.48 485L755.35 497.2M755.35 497.2l-7.53 -6.04M758.21 495.55l-7.53 -6.04M761.06 493.9l-3.77 -3.02M98.67 514.6L77.76 527.17M77.76 527.17l-7.64 -5.91M80.58 525.47l-7.64 -5.91M83.41 523.77l-3.82 -2.96M128.14 514.6L109.18 529.96M109.18 529.96l-8.38 -4.79M111.74 527.88l-8.38 -4.79M114.31 525.8l-8.38 -4.79M157.61 514.6L138.65 529.96M138.65 529.96l-8.38 -4.79M141.21 527.88l-8.38 -4.79M143.78 525.8l-4.19 -2.4M334.43 514.6L318.42 533.01M318.42 533.01l-9.09 -3.26M320.59 530.52l-9.09 -3.26M322.75 528.03l-4.54 -1.63M629.13 514.6L607.39 525.68M607.39 525.68l-7.2 -6.43M610.33 524.18l-7.2 -6.43M613.27 522.68l-3.6 -3.22M658.6 514.6L636.86 525.68M636.86 525.68l-7.2 -6.43M639.8 524.18l-7.2 -6.43M642.74 522.68l-3.6 -3.22M393.37 542.7L369.6 548.19M369.6 548.19l-5.43 -7.98M372.81 547.45l-5.43 -7.98M376.03 546.7l-2.72 -3.99M481.78 542.7L457.62 546.1M457.62 546.1l-4.72 -8.43M460.89 545.64l-4.72 -8.43M464.15 545.18l-2.36 -4.21M511.25 542.7L487.09 546.1M487.09 546.1l-4.72 -8.43M490.36 545.64l-4.72 -8.43M493.62 545.18l-2.36 -4.21M894.36 542.7L884.44 564.99M884.44 564.99l-9.65 -0.46M885.78 561.98l-9.65 -0.46M887.12 558.96l-4.82 -0.23M923.83 542.7L909.15 562.19M909.15 562.19l-9.29 -2.62M911.13 559.55l-9.29 -2.62M913.12 556.92l-4.65 -1.31M334.43 568.5L311.65 577.24M311.65 577.24l-6.49 -7.15M314.73 576.06l-6.49 -7.15M317.81 574.88l-3.25 -3.57M363.9 568.5L340.69 576.04M340.69 576.04l-6.11 -7.48M343.83 575.02l-6.11 -7.48M346.97 574l-3.05 -3.74M334.43 594.3L310.33 598.12M310.33 598.12l-4.86 -8.34M313.59 597.6l-4.86 -8.34M316.85 597.08l-4.86 -8.34M688.07 594.3L681.34 617.75M681.34 617.75l-9.62 0.88M682.25 614.58l-9.62 0.88M683.16 611.41l-4.81 0.44M717.54 594.3L709.19 617.23M709.19 617.23l-9.65 0.21M710.32 614.13l-9.65 0.21M711.45 611.03l-4.83 0.11M894.36 594.3L889.29 618.17M889.29 618.17l-9.53 1.55M889.97 614.94l-9.53 1.55M890.66 611.71l-4.77 0.78M953.3 594.3L950.75 618.57M950.75 618.57l-9.32 2.54M951.09 615.28l-9.32 2.54M951.44 612l-4.66 1.27" stroke="#0064ff"/>
<path d="M246.02 485L225.84 491.17M225.84 491.17l-5.98 -7.58M229 490.2l-5.98 -7.58M304.96 485L291.97 501.63M291.97 501.63l-9.25 -2.78M294 499.03l-9.25 -2.78M688.07 485L669.8 495.55M669.8 495.55l-7.53 -6.04M672.65 493.9l-7.53 -6.04M717.54 485L697.55 499M697.55 499l-8.03 -5.36M700.26 497.1l-8.03 -5.36M702.96 495.21l-4.01 -2.68M747.01 485L725.88 497.2M725.88 497.2l-7.53 -6.04M728.74 495.55l-7.53 -6.04M731.59 493.9l-3.77 -3.02M187.08 514.6L169.83 531.85M169.83 531.85l-8.84 -3.89M172.16 529.52l-8.84 -3.89M174.49 527.19l-4.42 -1.94M363.9 514.6L346.35 531.55M346.35 531.55l-8.77 -4.04M348.72 529.26l-8.77 -4.04M351.1 526.96l-4.38 -2.02M393.37 514.6L372.91 527.89M372.91 527.89l-7.84 -5.64M375.67 526.09l-7.84 -5.64M378.44 524.29l-3.92 -2.82M717.54 514.6L700.05 526.4M700.05 526.4l-7.93 -5.5M702.78 524.55l-7.93 -5.5M747.01 514.6L726.32 527.53M726.32 527.53l-7.74 -5.78M729.12 525.78l-7.74 -5.78M731.91 524.03l-3.87 -2.89M776.48 514.6L755.35 526.8M755.35 526.8l-7.53 -6.04M758.21 525.15l-7.53 -6.04M761.06 523.5l-3.77 -3.02M835.42 514.6L826.5 533.72M826.5 533.72l-9.64 -0.63M827.9 530.73l-9.64 -0.63M98.67 542.7L78.84 549.92M78.84 549.92l-6.37 -7.26M81.94 548.79l-6.37 -7.26M128.14 542.7L110.25 553.88M110.25 553.88l-7.74 -5.78M113.04 552.13l-7.74 -5.78M157.61 542.7L139.34 553.25M139.34 553.25l-7.53 -6.04M142.19 551.6l-7.53 -6.04M304.96 542.7L286.87 553.57M286.87 553.57l-7.64 -5.91M289.7 551.87l-7.64 -5.91M363.9 542.7L341.97 553.4M341.97 553.4l-7.09 -6.55M344.94 551.95l-7.09 -6.55M347.9 550.5l-3.55 -3.28M540.72 542.7L517.15 549.02M517.15 549.02l-5.71 -7.79M520.34 548.16l-5.71 -7.79M523.53 547.31l-2.86 -3.89M570.19 542.7L547.41 551.44M547.41 551.44l-6.49 -7.15M550.49 550.26l-6.49 -7.15M553.57 549.08l-3.25 -3.57M599.66 542.7L576.45 550.24M576.45 550.24l-6.11 -7.48M579.59 549.22l-6.11 -7.48M582.73 548.2l-3.05 -3.74M629.13 542.7L609.85 551.28M609.85 551.28l-6.86 -6.8M612.87 549.94l-6.86 -6.8M776.48 542.7L756.02 555.99M756.02 555.99l-7.84 -5.64M758.78 554.19l-7.84 -5.64M761.55 552.39l-3.92 -2.82M864.89 542.7L861.23 563.48M861.23 563.48l-9.47 1.88M861.8 560.23l-9.47 1.88M304.96 568.5L287.47 580.3M287.47 580.3l-7.93 -5.5M290.2 578.45l-7.93 -5.5M393.37 568.5L372.39 570.71M372.39 570.71l-4.42 -8.58M375.67 570.36l-4.42 -8.58M422.84 568.5L398.5 566.8M398.5 566.8l-2.86 -9.22M401.79 567.03l-2.86 -9.22M405.08 567.26l-1.43 -4.61M452.31 568.5L431.24 567.4M431.24 567.4l-3.02 -9.17M434.53 567.57l-3.02 -9.17M481.78 568.5L457.51 565.95M457.51 565.95l-2.54 -9.32M460.8 566.29l-2.54 -9.32M464.08 566.64l-1.27 -4.66M864.89 568.5L860.5 589.14M860.5 589.14l-9.53 1.55M861.19 585.91l-9.53 1.55M894.36 568.5L883.66 590.43M883.66 590.43l-9.62 -0.8M885.11 587.46l-9.62 -0.8M886.56 584.5l-4.81 -0.4M923.83 568.5L908.81 587.73M908.81 587.73l-9.25 -2.78M910.84 585.13l-9.25 -2.78M912.87 582.53l-4.62 -1.39M953.3 568.5L936.97 586.63M936.97 586.63l-9.03 -3.42M939.18 584.18l-9.03 -3.42M941.39 581.73l-4.52 -1.71M304.96 594.3L286.51 604.53M286.51 604.53l-7.42 -6.17M289.39 602.93l-7.42 -6.17M923.83 594.3L919.59 618.33M919.59 618.33l-9.47 1.88M920.17 615.08l-9.47 1.88M920.74 611.83l-4.74 0.94" stroke="#0032ff"/>
<path d="M275.49 485L257.22 495.55M257.22 495.55l-7.53 -6.04M260.07 493.9l-7.53 -6.04M246.02 514.6L226.46 522.5M226.46 522.5l-6.62 -7.03M229.52 521.27l-3.31 -3.52M304.96 514.6L291.97 531.23M291.97 531.23l-9.25 -2.78M294 528.63l-4.62 -1.39M688.07 514.6L669.98 525.47M669.98 525.47l-7.64 -5.91M672.81 523.77l-7.64 -5.91M805.95 514.6L793.25 531.45M793.25 531.45l-9.29 -2.62M795.24 528.82l-9.29 -2.62M187.08 542.7L168.12 551.95M168.12 551.95l-7.09 -6.55M171.08 550.5l-7.09 -6.55M334.43 542.7L318.75 556.82M318.75 556.82l-8.62 -4.35M321.2 554.61l-8.62 -4.35M658.6 542.7L640.51 553.57M640.51 553.57l-7.64 -5.91M643.34 551.87l-7.64 -5.91M688.07 542.7L670.79 554.8M670.79 554.8l-8.03 -5.36M673.49 552.91l-8.03 -5.36M717.54 542.7L701.14 555.98M701.14 555.98l-8.38 -4.79M703.71 553.9l-8.38 -4.79M747.01 542.7L731.58 557.09M731.58 557.09l-8.7 -4.2M733.99 554.84l-8.7 -4.2M835.42 542.7L832.12 563.54M832.12 563.54l-9.44 2.05M832.64 560.28l-9.44 2.05M98.67 568.5L78.2 563.4M78.2 563.4l-1.22 -9.58M81.4 564.19l-0.61 -4.79M511.25 568.5L490.27 566.29M490.27 566.29l-2.54 -9.32M493.55 566.64l-1.27 -4.66M570.19 568.5L549.63 573.25M549.63 573.25l-5.43 -7.98M552.85 572.5l-2.72 -3.99M599.66 568.5L579.28 573.96M579.28 573.96l-5.71 -7.79M582.47 573.11l-5.71 -7.79M629.13 568.5L610.5 578.41M610.5 578.41l-7.32 -6.3M613.41 576.86l-3.66 -3.15M658.6 568.5L646.2 585.57M646.2 585.57l-9.34 -2.46M648.14 582.9l-9.34 -2.46M688.07 568.5L680.17 588.06M680.17 588.06l-9.66 -0.13M681.4 585l-9.66 -0.13M717.54 568.5L707.96 587.3M707.96 587.3l-9.61 -0.97M709.46 584.36l-9.61 -0.97M747.01 568.5L740.14 588.45M740.14 588.45l-9.65 0.38M741.21 585.33l-9.65 0.38M776.48 568.5L766.25 586.95M766.25 586.95l-9.57 -1.3M767.85 584.07l-9.57 -1.3M805.95 568.5L797.71 587.92M797.71 587.92l-9.65 -0.29M798.99 584.88l-4.83 -0.15M835.42 568.5L832.85 589.44M832.85 589.44l-9.36 2.38M833.25 586.17l-4.68 1.19M98.67 594.3L78.11 599.05M78.11 599.05l-5.43 -7.98M81.33 598.3l-5.43 -7.98M128.14 594.3L108.31 601.52M108.31 601.52l-6.37 -7.26M111.41 600.39l-6.37 -7.26M157.61 594.3L136.77 591M136.77 591l-2.05 -9.44M140.03 591.52l-1.02 -4.72M275.49 594.3L278.43 615.19M278.43 615.19l-8.43 4.72M277.97 611.93l-4.21 2.36M363.9 617.1L376 599.82M376 599.82l9.38 2.3M374.11 602.52l4.69 1.15M629.13 617.1L641.53 634.17M641.53 634.17l-5.22 8.12M639.59 631.5l-2.61 4.06" stroke="#0000ff"/>
<path d="M216.55 514.6L196.85 522.16M196.85 522.16l-6.49 -7.15M199.93 520.98l-3.25 -3.57M275.49 514.6L258 526.4M258 526.4l-7.93 -5.5M260.73 524.55l-3.97 -2.75M275.49 542.7L257.04 552.93M257.04 552.93l-7.42 -6.17M259.92 551.33l-3.71 -3.09M805.95 542.7L792.11 558.62M792.11 558.62l-9.09 -3.26M794.27 556.13l-4.54 -1.63M157.61 568.5L137.23 573.96M137.23 573.96l-5.71 -7.79M140.42 573.11l-2.86 -3.89M275.49 568.5L264.94 586.77M264.94 586.77l-9.54 -1.47M266.59 583.92l-4.77 -0.73M540.72 568.5L519.94 572.16M519.94 572.16l-5.01 -8.26M523.19 571.59l-2.5 -4.13M246.02 617.1L255.97 631.86M255.97 631.86l-5.5 7.93M275.49 617.1L288.77 633.5M288.77 633.5l-4.79 8.38M286.69 630.93l-2.4 4.19M304.96 617.1L298.29 633.6M298.29 633.6l-9.66 -0.13M393.37 617.1L399.19 596.82M399.19 596.82l9.62 -0.88M398.28 599.99l4.81 -0.44M422.84 617.1L427.94 596.63M427.94 596.63l9.58 -1.22M427.15 599.83l4.79 -0.61M658.6 617.1L662.99 637.74M662.99 637.74l-8.08 5.29M662.3 634.51l-4.04 2.65M688.07 617.1L689.93 634.8M689.93 634.8l-8.58 4.42" stroke="#4600f5"/>
<path d="M216.55 542.7L201.97 552.91M201.97 552.91l-8.03 -5.36M246.02 542.7L230.3 551.06M230.3 551.06l-7.32 -6.3M128.14 568.5L111.31 574.3M111.31 574.3l-6.24 -7.37M187.08 568.5L169.35 570.05M172.14 569.81l-2.14 -4.33M216.55 568.5L211.64 585.61M212.42 582.92l-4.81 0.44M246.02 568.5L243.54 586.13M243.54 586.13l-9.4 2.21M187.08 594.3L172.32 604.25M174.64 602.69l-3.97 -2.75M216.55 594.3L215.93 612.09M216.03 609.29l-4.56 1.59M246.02 594.3L251.52 611.23M251.52 611.23l-7.48 6.11M363.9 594.3L381.31 590.6M381.31 590.6l5.29 8.08M393.37 594.3L401.73 578.58M401.73 578.58l9.59 1.13M422.84 594.3L418.53 577.03M419.21 579.75l3.94 -2.79M452.31 594.3L454.79 576.67M454.79 576.67l9.4 -2.21M481.78 594.3L481.78 576.5M481.78 576.5l9 -3.5M511.25 594.3L514.65 576.83M514.11 579.58l4.75 -0.86M570.19 594.3L576.28 611.03M575.32 608.4l-3.63 3.18M599.66 594.3L607.18 610.43M607.18 610.43l-6.68 6.98M629.13 594.3L625.73 611.77M625.73 611.77l-9.5 1.72M658.6 594.3L656.43 611.97M656.43 611.97l-9.36 2.38M98.67 617.1L81.74 622.6M81.74 622.6l-6.11 -7.48M128.14 617.1L110.61 620.19M113.37 619.7l-2.5 -4.13M157.61 617.1L139.85 618.34M142.65 618.15l-2.06 -4.37M187.08 617.1L178.72 632.82M180.04 630.34l-4.79 -0.57M216.55 617.1L221.46 634.21M220.68 631.52l-3.84 2.92M334.43 617.1L327.47 600.72M327.47 600.72l6.92 -6.74M452.31 617.1L456.62 599.83M456.62 599.83l9.58 -1.22M481.78 617.1L483.64 599.4M483.64 599.4l9.32 -2.54M511.25 617.1L514.95 599.69M514.37 602.43l4.77 -0.78M570.19 617.1L576.28 633.83M575.32 631.2l-3.63 3.18M599.66 617.1L609.87 631.68M609.87 631.68l-5.36 8.03M717.54 617.1L719.4 634.8M719.4 634.8l-8.58 4.42M747.01 617.1L742.4 634.29M743.13 631.59l-4.8 0.53M776.48 617.1L775.86 634.89M775.96 632.09l-4.56 1.59M805.95 617.1L814.03 632.96M814.03 632.96l-6.43 7.2M835.42 617.1L844.85 632.2M844.85 632.2l-5.78 7.74M864.89 617.1L874.58 632.03M874.58 632.03l-5.64 7.84M894.36 617.1L902.72 632.82M902.72 632.82l-6.3 7.32M923.83 617.1L930.5 633.6M930.5 633.6l-7.03 6.62M953.3 617.1L959.97 633.6M959.97 633.6l-7.03 6.62" stroke="#6e00ff"/>
<path d="M540.72 594.3L545.63 611.41M540.72 617.1L546.81 633.83" stroke="#8200ff"/>
<path d="M72.65 83.11L67.22 75.12L77.43 82ZM102.12 83.11L96.69 75.12L106.9 82Z" stroke="#46fa00" fill="#46fa00" stroke-width="0.6"/>
<path d="M135.23 83.94L129.25 76.36L139.92 82.51ZM314.81 171.84L306.97 166.2L318.91 169.18ZM136.4 236.59L129.43 229.91L140.84 234.52Z" stroke="#00fa3c" fill="#00fa3c" stroke-width="0.6"/>
<path d="M164.95 84.72L158.72 77.35L169.59 83.12ZM194.17 83.94L188.19 76.36L198.86 82.51ZM223.77 84.33L217.66 76.85L228.43 82.82ZM253 83.55L247.15 75.86L257.71 82.2ZM282.47 83.55L276.62 75.86L287.18 82.2ZM312.05 83.94L306.07 76.36L316.74 82.51ZM903.57 88.8L896.03 82.76L907.81 86.35ZM932.83 88.44L925.41 82.27L937.12 86.07ZM136.76 169.72L129.56 163.29L141.13 167.5ZM876.97 174.76L868.35 170.41L880.61 171.48ZM314.81 239.44L306.97 233.8L318.91 236.78ZM342.69 236.59L335.72 229.91L347.13 234.52ZM166.61 295.44L159.19 289.27L170.9 293.07Z" stroke="#00fa82" fill="#00fa82" stroke-width="0.6"/>
<path d="M344.24 81.28L338.94 73.2L349.03 80.26ZM370.2 80.36L365.48 71.93L375.05 79.67ZM402.94 79.9L398.22 71.47L407.79 79.22ZM432.41 79.9L427.69 71.47L437.26 79.22ZM491.23 78.85L486.96 70.19L496.11 78.42ZM520.7 78.85L516.43 70.19L525.58 78.42ZM550.1 77.8L546.29 68.93L555 77.63ZM579.59 78.15L575.62 69.35L584.48 77.9ZM667.97 77.1L664.47 68.1L672.87 77.1ZM817.06 85.28L810.2 78.48L821.53 83.28ZM846.98 86.23L839.78 79.8L851.35 84ZM873.7 88.09L866.38 81.78L878.03 85.79ZM106.93 168.99L99.96 162.31L111.37 166.92ZM166.42 170.09L159.1 163.78L170.75 167.79ZM199.14 169.15L191.61 163.11L203.39 166.7ZM228.61 169.15L221.08 163.11L232.86 166.7ZM254.83 170.09L247.51 163.78L259.16 167.79ZM284.49 170.44L277.07 164.27L288.78 168.07ZM345.68 167.59L338.71 160.92L350.12 165.52ZM906.44 174.76L897.82 170.41L910.08 171.48ZM80.17 234.55L73.43 227.64L84.68 232.64ZM106.76 236.22L99.9 229.42L111.24 234.22ZM168.39 240.78L160.18 235.7L172.31 237.83ZM196.93 239.44L189.09 233.8L201.03 236.78ZM226.62 239.79L218.69 234.28L230.68 237.05ZM255.02 238.04L247.6 231.87L259.31 235.67ZM287.21 236.14L279.9 229.83L291.54 233.84ZM878.96 239.62L870.5 234.98L882.72 236.47ZM907.99 239.07L899.69 234.14L911.85 236.06ZM934.61 240.78L926.4 235.7L938.53 237.83ZM140.2 294.15L132.67 288.11L144.45 291.7ZM196.49 296.15L188.86 290.24L200.69 293.63ZM226.4 296.84L218.56 291.2L230.5 294.18ZM255.87 296.84L248.03 291.2L259.97 294.18ZM287.38 293.84L279.96 287.67L291.67 291.47ZM317.02 294.15L309.49 288.11L321.27 291.7ZM911.18 299.72L901.98 296.78L914.26 295.91ZM228.44 342.84L221.02 336.67L232.73 340.47ZM228.11 386.33L220.91 379.9L232.48 384.1Z" stroke="#00faaa" fill="#00faaa" stroke-width="0.6"/>
<path d="M461.76 78.85L457.49 70.19L466.64 78.42ZM850.93 173.56L842.02 169.82L854.33 170.03ZM938.13 172.29L929.58 167.79L941.83 169.07ZM80.45 292.59L73.48 285.92L84.89 290.52ZM111.28 295.05L103.45 289.41L115.39 292.38ZM938.36 297.55L929.74 293.2L942 294.27ZM141.35 344.91L133.23 339.69L145.31 342.03ZM198.97 342.84L191.55 336.67L203.26 340.47ZM257.91 342.84L250.49 336.67L262.2 340.47ZM199.69 388.15L191.86 382.51L203.8 385.48ZM257.58 386.33L250.38 379.9L261.95 384.1ZM376.14 426.45L368.51 420.54L380.34 423.93ZM405.79 426.75L398.06 420.97L409.95 424.15ZM376.32 462.85L368.59 457.07L380.48 460.25ZM407.44 465.12L398.98 460.48L411.2 461.97ZM912.02 468.46L902.68 466L914.9 464.5ZM913.78 502.41L904.24 500.94L916.23 498.16Z" stroke="#00ffdc" fill="#00ffdc" stroke-width="0.6"/>
</g>
<rect x="70" y="45" width="884.05" height="632" fill="none" stroke="#000" stroke-width="2"/>
<path d="M60.7 45H69M60.7 130.13H69M60.7 199.68H69M60.7 258.49H69M60.7 309.44H69M60.7 354.37H69M60.7 394.56H69M60.7 430.93H69M60.7 464.12H69M60.7 494.66H69M60.7 522.93H69M60.7 549.25H69M60.7 573.87H69M60.7 597H69M60.7 618.81H69M60.7 639.43H69M60.7 659H69M70 678V683.3M246.81 678V683.3M423.62 678V683.3M600.43 678V683.3M777.24 678V683.3M954.05 678V683.3" stroke="#333" stroke-width="1.2" fill="none"/>
<path d="M83.78 12.91 83.78 11.97 84.71 10.08 85.63 9.14 87.49 8.2 91.2 8.2 93.06 9.14 93.99 10.08 94.92 11.97 94.92 13.86 93.99 15.74 92.13 18.57 82.85 28 95.84 28M106.98 8.2 104.2 9.14 102.34 11.97 101.41 16.68 101.41 19.51 102.34 24.23 104.2 27.06 106.98 28 108.84 28 111.62 27.06 113.48 24.23 114.41 19.51 114.41 16.68 113.48 11.97 111.62 9.14 108.84 8.2 106.98 8.2M120.9 12.91 120.9 11.97 121.83 10.08 122.76 9.14 124.61 8.2 128.33 8.2 130.18 9.14 131.11 10.08 132.04 11.97 132.04 13.86 131.11 15.74 129.25 18.57 119.97 28 132.97 28M150.6 11.03 149.67 9.14 146.89 8.2 145.03 8.2 142.25 9.14 140.39 11.97 139.46 16.68 139.46 21.4 140.39 25.17 142.25 27.06 145.03 28 145.96 28 148.74 27.06 150.6 25.17 151.53 22.34 151.53 21.4 150.6 18.57 148.74 16.68 145.96 15.74 145.03 15.74 142.25 16.68 140.39 18.57 139.46 21.4M162.67 8.2 159.88 9.14 158.03 11.97 157.1 16.68 157.1 19.51 158.03 24.23 159.88 27.06 162.67 28 164.52 28 167.31 27.06 169.16 24.23 170.09 19.51 170.09 16.68 169.16 11.97 167.31 9.14 164.52 8.2 162.67 8.2M177.52 8.2 187.72 8.2 182.16 15.74 184.94 15.74 186.8 16.68 187.72 17.63 188.65 20.46 188.65 22.34 187.72 25.17 185.87 27.06 183.08 28 180.3 28 177.52 27.06 176.59 26.11 175.66 24.23M199.79 8.2 197.01 9.14 195.15 11.97 194.22 16.68 194.22 19.51 195.15 24.23 197.01 27.06 199.79 28 201.65 28 204.43 27.06 206.29 24.23 207.21 19.51 207.21 16.68 206.29 11.97 204.43 9.14 201.65 8.2 199.79 8.2M214.64 8.2 224.85 8.2 219.28 15.74 222.06 15.74 223.92 16.68 224.85 17.63 225.78 20.46 225.78 22.34 224.85 25.17 222.99 27.06 220.21 28 217.42 28 214.64 27.06 213.71 26.11 212.78 24.23M234.13 11.97 235.99 11.03 238.77 8.2 238.77 28M250.83 12.91 250.83 11.97 251.76 10.08 252.69 9.14 254.55 8.2 258.26 8.2 260.12 9.14 261.04 10.08 261.97 11.97 261.97 13.86 261.04 15.74 259.19 18.57 249.91 28 262.9 28M287.1 8.2 287.1 28M287.1 8.2 300.06 28M300.06 8.2 300.06 28M312.1 8.2 304.69 28M312.1 8.2 319.51 28M307.47 21.4 316.73 21.4M324.14 8.2 324.14 28M324.14 8.2 331.55 28M338.96 8.2 331.55 28M338.96 8.2 338.96 28M347.29 8.2 357.48 8.2 351.92 15.74 354.7 15.74 356.55 16.68 357.48 17.63 358.4 20.46 358.4 22.34 357.48 25.17 355.63 27.06 352.85 28 350.07 28 347.29 27.06 346.37 26.11 345.44 24.23M364.89 8.2 364.89 28M377.85 8.2 364.89 21.4M369.52 16.68 377.85 28M384.33 8.2 384.33 28M384.33 8.2 391.74 28M399.15 8.2 391.74 28M399.15 8.2 399.15 28M430.19 8.2 428.36 8.2 426.52 9.14 425.6 11.97 425.6 28M422.85 14.8 429.27 14.8M439.37 14.8 437.53 15.74 435.7 17.63 434.78 20.46 434.78 22.34 435.7 25.17 437.53 27.06 439.37 28 442.12 28 443.96 27.06 445.79 25.17 446.71 22.34 446.71 20.46 445.79 17.63 443.96 15.74 442.12 14.8 439.37 14.8M453.14 14.8 453.14 28M453.14 20.46 454.05 17.63 455.89 15.74 457.72 14.8 460.48 14.8M464.15 20.46 475.16 20.46 475.16 18.57 474.24 16.68 473.33 15.74 471.49 14.8 468.74 14.8 466.9 15.74 465.07 17.63 464.15 20.46 464.15 22.34 465.07 25.17 466.9 27.06 468.74 28 471.49 28 473.33 27.06 475.16 25.17M491.68 17.63 489.85 15.74 488.01 14.8 485.26 14.8 483.42 15.74 481.59 17.63 480.67 20.46 480.67 22.34 481.59 25.17 483.42 27.06 485.26 28 488.01 28 489.85 27.06 491.68 25.17M508.2 14.8 508.2 28M508.2 17.63 506.36 15.74 504.53 14.8 501.78 14.8 499.94 15.74 498.1 17.63 497.19 20.46 497.19 22.34 498.1 25.17 499.94 27.06 501.78 28 504.53 28 506.36 27.06 508.2 25.17M524.72 17.63 523.8 15.74 521.05 14.8 518.3 14.8 515.54 15.74 514.62 17.63 515.54 19.51 517.38 20.46 521.97 21.4 523.8 22.34 524.72 24.23 524.72 25.17 523.8 27.06 521.05 28 518.3 28 515.54 27.06 514.62 25.17M532.06 8.2 532.06 24.23 532.98 27.06 534.81 28 536.65 28M529.31 14.8 535.73 14.8M558.85 14.8 562.61 28M566.36 14.8 562.61 28M566.36 14.8 570.12 28M573.88 14.8 570.12 28M579.52 8.2 580.45 9.14 581.39 8.2 580.45 7.25 579.52 8.2M580.45 14.8 580.45 28M587.97 14.8 587.97 28M587.97 18.57 590.79 15.74 592.67 14.8 595.48 14.8 597.36 15.74 598.3 18.57 598.3 28M616.15 8.2 616.15 28M616.15 17.63 614.27 15.74 612.39 14.8 609.57 14.8 607.7 15.74 605.82 17.63 604.88 20.46 604.88 22.34 605.82 25.17 607.7 27.06 609.57 28 612.39 28 614.27 27.06 616.15 25.17M638.35 14.8 638.35 34.6M638.35 17.63 640.21 15.74 642.07 14.8 644.87 14.8 646.73 15.74 648.59 17.63 649.52 20.46 649.52 22.34 648.59 25.17 646.73 27.06 644.87 28 642.07 28 640.21 27.06 638.35 25.17M656.04 14.8 656.04 28M656.04 20.46 656.97 17.63 658.83 15.74 660.7 14.8 663.49 14.8M671.87 14.8 670.01 15.74 668.15 17.63 667.21 20.46 667.21 22.34 668.15 25.17 670.01 27.06 671.87 28 674.66 28 676.53 27.06 678.39 25.17 679.32 22.34 679.32 20.46 678.39 17.63 676.53 15.74 674.66 14.8 671.87 14.8M691.42 8.2 689.56 8.2 687.7 9.14 686.77 11.97 686.77 28M683.97 14.8 690.49 14.8M696.08 8.2 697.01 9.14 697.94 8.2 697.01 7.25 696.08 8.2M697.01 14.8 697.01 28M704.46 8.2 704.46 28M710.98 20.46 722.15 20.46 722.15 18.57 721.22 16.68 720.29 15.74 718.43 14.8 715.63 14.8 713.77 15.74 711.91 17.63 710.98 20.46 710.98 22.34 711.91 25.17 713.77 27.06 715.63 28 718.43 28 720.29 27.06 722.15 25.17M752.82 4.43 750.97 6.31 749.12 9.14 747.27 12.91 746.35 17.63 746.35 21.4 747.27 26.11 749.12 29.89 750.97 32.72 752.82 34.6M759.29 8.2 759.29 28M768.54 14.8 759.29 24.23M762.99 20.46 769.46 28M775.93 8.2 775.93 24.23 776.86 27.06 778.71 28 780.56 28M773.16 14.8 779.63 14.8M785.18 4.43 787.03 6.31 788.88 9.14 790.73 12.91 791.65 17.63 791.65 21.4 790.73 26.11 788.88 29.89 787.03 32.72 785.18 34.6M822.59 8.2 820.91 8.2 819.22 9.14 818.38 11.97 818.38 28M815.85 14.8 821.75 14.8M831.02 14.8 829.33 15.74 827.65 17.63 826.8 20.46 826.8 22.34 827.65 25.17 829.33 27.06 831.02 28 833.55 28 835.23 27.06 836.92 25.17 837.76 22.34 837.76 20.46 836.92 17.63 835.23 15.74 833.55 14.8 831.02 14.8M843.66 14.8 843.66 28M843.66 20.46 844.5 17.63 846.19 15.74 847.87 14.8 850.4 14.8M874.85 8.2 874.85 28M887.47 8.2 874.85 21.4M879.36 16.68 887.47 28M893.78 8.2 893.78 28M893.78 28 904.6 28M909.1 8.2 909.1 28M909.1 8.2 917.21 8.2 919.92 9.14 920.82 10.08 921.72 11.97 921.72 13.86 920.82 15.74 919.92 16.68 917.21 17.63M909.1 17.63 917.21 17.63 919.92 18.57 920.82 19.51 921.72 21.4 921.72 24.23 920.82 26.11 919.92 27.06 917.21 28 909.1 28M928.03 8.2 928.03 28M928.03 8.2 936.14 8.2 938.85 9.14 939.75 10.08 940.65 11.97 940.65 13.86 939.75 15.74 938.85 16.68 936.14 17.63M928.03 17.63 936.14 17.63 938.85 18.57 939.75 19.51 940.65 21.4 940.65 24.23 939.75 26.11 938.85 27.06 936.14 28 928.03 28" fill="none" stroke="#000" stroke-width="1.7" stroke-linecap="round" stroke-linejoin="round"/>
<path d="M22.11 41.59 22.11 40.97 22.79 39.73 23.47 39.11 24.83 38.49 27.55 38.49 28.91 39.11 29.59 39.73 30.27 40.97 30.27 42.21 29.59 43.45 28.23 45.31 21.43 51.51 30.95 51.51M39.11 38.49 37.07 39.11 35.71 40.97 35.03 44.07 35.03 45.93 35.71 49.03 37.07 50.89 39.11 51.51 40.47 51.51 42.51 50.89 43.87 49.03 44.55 45.93 44.55 44.07 43.87 40.97 42.51 39.11 40.47 38.49 39.11 38.49M52.71 38.49 50.67 39.11 49.31 40.97 48.63 44.07 48.63 45.93 49.31 49.03 50.67 50.89 52.71 51.51 54.07 51.51 56.11 50.89 57.47 49.03 58.15 45.93 58.15 44.07 57.47 40.97 56.11 39.11 54.07 38.49 52.71 38.49M22.11 126.72 22.11 126.1 22.79 124.86 23.47 124.24 24.83 123.62 27.55 123.62 28.91 124.24 29.59 124.86 30.27 126.1 30.27 127.34 29.59 128.58 28.23 130.44 21.43 136.64 30.95 136.64M43.19 123.62 36.39 123.62 35.71 129.2 36.39 128.58 38.43 127.96 40.47 127.96 42.51 128.58 43.87 129.82 44.55 131.68 44.55 132.92 43.87 134.78 42.51 136.02 40.47 136.64 38.43 136.64 36.39 136.02 35.71 135.4 35.03 134.16M52.71 123.62 50.67 124.24 49.31 126.1 48.63 129.2 48.63 131.06 49.31 134.16 50.67 136.02 52.71 136.64 54.07 136.64 56.11 136.02 57.47 134.16 58.15 131.06 58.15 129.2 57.47 126.1 56.11 124.24 54.07 123.62 52.71 123.62M22.79 193.17 30.27 193.17 26.19 198.13 28.23 198.13 29.59 198.75 30.27 199.37 30.95 201.23 30.95 202.47 30.27 204.33 28.91 205.57 26.87 206.19 24.83 206.19 22.79 205.57 22.11 204.95 21.43 203.71M39.11 193.17 37.07 193.79 35.71 195.65 35.03 198.75 35.03 200.61 35.71 203.71 37.07 205.57 39.11 206.19 40.47 206.19 42.51 205.57 43.87 203.71 44.55 200.61 44.55 198.75 43.87 195.65 42.51 193.79 40.47 193.17 39.11 193.17M52.71 193.17 50.67 193.79 49.31 195.65 48.63 198.75 48.63 200.61 49.31 203.71 50.67 205.57 52.71 206.19 54.07 206.19 56.11 205.57 57.47 203.71 58.15 200.61 58.15 198.75 57.47 195.65 56.11 193.79 54.07 193.17 52.71 193.17M22.79 251.98 30.27 251.98 26.19 256.94 28.23 256.94 29.59 257.56 30.27 258.18 30.95 260.04 30.95 261.28 30.27 263.14 28.91 264.38 26.87 265 24.83 265 22.79 264.38 22.11 263.76 21.43 262.52M43.19 251.98 36.39 251.98 35.71 257.56 36.39 256.94 38.43 256.32 40.47 256.32 42.51 256.94 43.87 258.18 44.55 260.04 44.55 261.28 43.87 263.14 42.51 264.38 40.47 265 38.43 265 36.39 264.38 35.71 263.76 35.03 262.52M52.71 251.98 50.67 252.6 49.31 254.46 48.63 257.56 48.63 259.42 49.31 262.52 50.67 264.38 52.71 265 54.07 265 56.11 264.38 57.47 262.52 58.15 259.42 58.15 257.56 57.47 254.46 56.11 252.6 54.07 251.98 52.71 251.98M28.23 302.93 21.43 311.61 31.63 311.61M28.23 302.93 28.23 315.95M39.11 302.93 37.07 303.55 35.71 305.41 35.03 308.51 35.03 310.37 35.71 313.47 37.07 315.33 39.11 315.95 40.47 315.95 42.51 315.33 43.87 313.47 44.55 310.37 44.55 308.51 43.87 305.41 42.51 303.55 40.47 302.93 39.11 302.93M52.71 302.93 50.67 303.55 49.31 305.41 48.63 308.51 48.63 310.37 49.31 313.47 50.67 315.33 52.71 315.95 54.07 315.95 56.11 315.33 57.47 313.47 58.15 310.37 58.15 308.51 57.47 305.41 56.11 303.55 54.07 302.93 52.71 302.93M28.23 347.86 21.43 356.54 31.63 356.54M28.23 347.86 28.23 360.88M43.19 347.86 36.39 347.86 35.71 353.44 36.39 352.82 38.43 352.2 40.47 352.2 42.51 352.82 43.87 354.06 44.55 355.92 44.55 357.16 43.87 359.02 42.51 360.26 40.47 360.88 38.43 360.88 36.39 360.26 35.71 359.64 35.03 358.4M52.71 347.86 50.67 348.48 49.31 350.34 48.63 353.44 48.63 355.3 49.31 358.4 50.67 360.26 52.71 360.88 54.07 360.88 56.11 360.26 57.47 358.4 58.15 355.3 58.15 353.44 57.47 350.34 56.11 348.48 54.07 347.86 52.71 347.86M29.59 388.05 22.79 388.05 22.11 393.63 22.79 393.01 24.83 392.39 26.87 392.39 28.91 393.01 30.27 394.25 30.95 396.11 30.95 397.35 30.27 399.21 28.91 400.45 26.87 401.07 24.83 401.07 22.79 400.45 22.11 399.83 21.43 398.59M39.11 388.05 37.07 388.67 35.71 390.53 35.03 393.63 35.03 395.49 35.71 398.59 37.07 400.45 39.11 401.07 40.47 401.07 42.51 400.45 43.87 398.59 44.55 395.49 44.55 393.63 43.87 390.53 42.51 388.67 40.47 388.05 39.11 388.05M52.71 388.05 50.67 388.67 49.31 390.53 48.63 393.63 48.63 395.49 49.31 398.59 50.67 400.45 52.71 401.07 54.07 401.07 56.11 400.45 57.47 398.59 58.15 395.49 58.15 393.63 57.47 390.53 56.11 388.67 54.07 388.05 52.71 388.05M29.59 424.42 22.79 424.42 22.11 430 22.79 429.38 24.83 428.76 26.87 428.76 28.91 429.38 30.27 430.62 30.95 432.48 30.95 433.72 30.27 435.58 28.91 436.82 26.87 437.44 24.83 437.44 22.79 436.82 22.11 436.2 21.43 434.96M43.19 424.42 36.39 424.42 35.71 430 36.39 429.38 38.43 428.76 40.47 428.76 42.51 429.38 43.87 430.62 44.55 432.48 44.55 433.72 43.87 435.58 42.51 436.82 40.47 437.44 38.43 437.44 36.39 436.82 35.71 436.2 35.03 434.96M52.71 424.42 50.67 425.04 49.31 426.9 48.63 430 48.63 431.86 49.31 434.96 50.67 436.82 52.71 437.44 54.07 437.44 56.11 436.82 57.47 434.96 58.15 431.86 58.15 430 57.47 426.9 56.11 425.04 54.07 424.42 52.71 424.42M30.27 459.47 29.59 458.23 27.55 457.61 26.19 457.61 24.15 458.23 22.79 460.09 22.11 463.19 22.11 466.29 22.79 468.77 24.15 470.01 26.19 470.63 26.87 470.63 28.91 470.01 30.27 468.77 30.95 466.91 30.95 466.29 30.27 464.43 28.91 463.19 26.87 462.57 26.19 462.57 24.15 463.19 22.79 464.43 22.11 466.29M39.11 457.61 37.07 458.23 35.71 460.09 35.03 463.19 35.03 465.05 35.71 468.15 37.07 470.01 39.11 470.63 40.47 470.63 42.51 470.01 43.87 468.15 44.55 465.05 44.55 463.19 43.87 460.09 42.51 458.23 40.47 457.61 39.11 457.61M52.71 457.61 50.67 458.23 49.31 460.09 48.63 463.19 48.63 465.05 49.31 468.15 50.67 470.01 52.71 470.63 54.07 470.63 56.11 470.01 57.47 468.15 58.15 465.05 58.15 463.19 57.47 460.09 56.11 458.23 54.07 457.61 52.71 457.61M30.27 490.01 29.59 488.77 27.55 488.15 26.19 488.15 24.15 488.77 22.79 490.63 22.11 493.73 22.11 496.83 22.79 499.31 24.15 500.55 26.19 501.17 26.87 501.17 28.91 500.55 30.27 499.31 30.95 497.45 30.95 496.83 30.27 494.97 28.91 493.73 26.87 493.11 26.19 493.11 24.15 493.73 22.79 494.97 22.11 496.83M43.19 488.15 36.39 488.15 35.71 493.73 36.39 493.11 38.43 492.49 40.47 492.49 42.51 493.11 43.87 494.35 44.55 496.21 44.55 497.45 43.87 499.31 42.51 500.55 40.47 501.17 38.43 501.17 36.39 500.55 35.71 499.93 35.03 498.69M52.71 488.15 50.67 488.77 49.31 490.63 48.63 493.73 48.63 495.59 49.31 498.69 50.67 500.55 52.71 501.17 54.07 501.17 56.11 500.55 57.47 498.69 58.15 495.59 58.15 493.73 57.47 490.63 56.11 488.77 54.07 488.15 52.71 488.15M30.95 516.42 24.15 529.44M21.43 516.42 30.95 516.42M39.11 516.42 37.07 517.04 35.71 518.9 35.03 522 35.03 523.86 35.71 526.96 37.07 528.82 39.11 529.44 40.47 529.44 42.51 528.82 43.87 526.96 44.55 523.86 44.55 522 43.87 518.9 42.51 517.04 40.47 516.42 39.11 516.42M52.71 516.42 50.67 517.04 49.31 518.9 48.63 522 48.63 523.86 49.31 526.96 50.67 528.82 52.71 529.44 54.07 529.44 56.11 528.82 57.47 526.96 58.15 523.86 58.15 522 57.47 518.9 56.11 517.04 54.07 516.42 52.71 516.42M30.95 542.74 24.15 555.76M21.43 542.74 30.95 542.74M43.19 542.74 36.39 542.74 35.71 548.32 36.39 547.7 38.43 547.08 40.47 547.08 42.51 547.7 43.87 548.94 44.55 550.8 44.55 552.04 43.87 553.9 42.51 555.14 40.47 555.76 38.43 555.76 36.39 555.14 35.71 554.52 35.03 553.28M52.71 542.74 50.67 543.36 49.31 545.22 48.63 548.32 48.63 550.18 49.31 553.28 50.67 555.14 52.71 555.76 54.07 555.76 56.11 555.14 57.47 553.28 58.15 550.18 58.15 548.32 57.47 545.22 56.11 543.36 54.07 542.74 52.71 542.74M24.83 567.36 22.79 567.98 22.11 569.22 22.11 570.46 22.79 571.7 24.15 572.32 26.87 572.94 28.91 573.56 30.27 574.8 30.95 576.04 30.95 577.9 30.27 579.14 29.59 579.76 27.55 580.38 24.83 580.38 22.79 579.76 22.11 579.14 21.43 577.9 21.43 576.04 22.11 574.8 23.47 573.56 25.51 572.94 28.23 572.32 29.59 571.7 30.27 570.46 30.27 569.22 29.59 567.98 27.55 567.36 24.83 567.36M39.11 567.36 37.07 567.98 35.71 569.84 35.03 572.94 35.03 574.8 35.71 577.9 37.07 579.76 39.11 580.38 40.47 580.38 42.51 579.76 43.87 577.9 44.55 574.8 44.55 572.94 43.87 569.84 42.51 567.98 40.47 567.36 39.11 567.36M52.71 567.36 50.67 567.98 49.31 569.84 48.63 572.94 48.63 574.8 49.31 577.9 50.67 579.76 52.71 580.38 54.07 580.38 56.11 579.76 57.47 577.9 58.15 574.8 58.15 572.94 57.47 569.84 56.11 567.98 54.07 567.36 52.71 567.36M24.83 590.49 22.79 591.11 22.11 592.35 22.11 593.59 22.79 594.83 24.15 595.45 26.87 596.07 28.91 596.69 30.27 597.93 30.95 599.17 30.95 601.03 30.27 602.27 29.59 602.89 27.55 603.51 24.83 603.51 22.79 602.89 22.11 602.27 21.43 601.03 21.43 599.17 22.11 597.93 23.47 596.69 25.51 596.07 28.23 595.45 29.59 594.83 30.27 593.59 30.27 592.35 29.59 591.11 27.55 590.49 24.83 590.49M43.19 590.49 36.39 590.49 35.71 596.07 36.39 595.45 38.43 594.83 40.47 594.83 42.51 595.45 43.87 596.69 44.55 598.55 44.55 599.79 43.87 601.65 42.51 602.89 40.47 603.51 38.43 603.51 36.39 602.89 35.71 602.27 35.03 601.03M52.71 590.49 50.67 591.11 49.31 592.97 48.63 596.07 48.63 597.93 49.31 601.03 50.67 602.89 52.71 603.51 54.07 603.51 56.11 602.89 57.47 601.03 58.15 597.93 58.15 596.07 57.47 592.97 56.11 591.11 54.07 590.49 52.71 590.49M30.27 616.64 29.59 618.5 28.23 619.74 26.19 620.36 25.51 620.36 23.47 619.74 22.11 618.5 21.43 616.64 21.43 616.02 22.11 614.16 23.47 612.92 25.51 612.3 26.19 612.3 28.23 612.92 29.59 614.16 30.27 616.64 30.27 619.74 29.59 622.84 28.23 624.7 26.19 625.32 24.83 625.32 22.79 624.7 22.11 623.46M39.11 612.3 37.07 612.92 35.71 614.78 35.03 617.88 35.03 619.74 35.71 622.84 37.07 624.7 39.11 625.32 40.47 625.32 42.51 624.7 43.87 622.84 44.55 619.74 44.55 617.88 43.87 614.78 42.51 612.92 40.47 612.3 39.11 612.3M52.71 612.3 50.67 612.92 49.31 614.78 48.63 617.88 48.63 619.74 49.31 622.84 50.67 624.7 52.71 625.32 54.07 625.32 56.11 624.7 57.47 622.84 58.15 619.74 58.15 617.88 57.47 614.78 56.11 612.92 54.07 612.3 52.71 612.3M30.27 637.26 29.59 639.12 28.23 640.36 26.19 640.98 25.51 640.98 23.47 640.36 22.11 639.12 21.43 637.26 21.43 636.64 22.11 634.78 23.47 633.54 25.51 632.92 26.19 632.92 28.23 633.54 29.59 634.78 30.27 637.26 30.27 640.36 29.59 643.46 28.23 645.32 26.19 645.94 24.83 645.94 22.79 645.32 22.11 644.08M43.19 632.92 36.39 632.92 35.71 638.5 36.39 637.88 38.43 637.26 40.47 637.26 42.51 637.88 43.87 639.12 44.55 640.98 44.55 642.22 43.87 644.08 42.51 645.32 40.47 645.94 38.43 645.94 36.39 645.32 35.71 644.7 35.03 643.46M52.71 632.92 50.67 633.54 49.31 635.4 48.63 638.5 48.63 640.36 49.31 643.46 50.67 645.32 52.71 645.94 54.07 645.94 56.11 645.32 57.47 643.46 58.15 640.36 58.15 638.5 57.47 635.4 56.11 633.54 54.07 632.92 52.71 632.92M9.87 654.97 11.23 654.35 13.27 652.49 13.27 665.51M25.51 652.49 23.47 653.11 22.11 654.97 21.43 658.07 21.43 659.93 22.11 663.03 23.47 664.89 25.51 665.51 26.87 665.51 28.91 664.89 30.27 663.03 30.95 659.93 30.95 658.07 30.27 654.97 28.91 653.11 26.87 652.49 25.51 652.49M39.11 652.49 37.07 653.11 35.71 654.97 35.03 658.07 35.03 659.93 35.71 663.03 37.07 664.89 39.11 665.51 40.47 665.51 42.51 664.89 43.87 663.03 44.55 659.93 44.55 658.07 43.87 654.97 42.51 653.11 40.47 652.49 39.11 652.49M52.71 652.49 50.67 653.11 49.31 654.97 48.63 658.07 48.63 659.93 49.31 663.03 50.67 664.89 52.71 665.51 54.07 665.51 56.11 664.89 57.47 663.03 58.15 659.93 58.15 658.07 57.47 654.97 56.11 653.11 54.07 652.49 52.71 652.49" fill="none" stroke="#111" stroke-width="1.3" stroke-linecap="round" stroke-linejoin="round"/>
<path d="M56.25 690.96 57.34 690.4 58.97 688.71 58.97 700.55M66.03 691.53 66.03 690.96 66.57 689.83 67.11 689.27 68.2 688.71 70.37 688.71 71.46 689.27 72 689.83 72.54 690.96 72.54 692.09 72 693.22 70.91 694.91 65.48 700.55 73.09 700.55M83.95 688.71 76.34 700.55M76.34 688.71 83.95 688.71M76.34 700.55 83.95 700.55M49.88 707.56 55.97 707.56 52.65 712.07 54.31 712.07 55.42 712.63 55.97 713.2 56.53 714.89 56.53 716.02 55.97 717.71 54.86 718.84 53.2 719.4 51.54 719.4 49.88 718.84 49.32 718.27 48.77 717.14M60.4 707.56 60.4 719.4M60.4 707.56 64.84 719.4M69.27 707.56 64.84 719.4M69.27 707.56 69.27 719.4M76.47 707.56 72.04 719.4M76.47 707.56 80.9 719.4M73.7 715.45 79.24 715.45M83.67 707.56 83.67 719.4M83.67 707.56 88.66 707.56 90.32 708.12 90.88 708.68 91.43 709.81 91.43 710.94 90.88 712.07 90.32 712.63 88.66 713.2 83.67 713.2M87.55 713.2 91.43 719.4M50.16 729.38 50.16 728.81 50.71 727.68 51.26 727.12 52.37 726.56 54.59 726.56 55.7 727.12 56.25 727.68 56.8 728.81 56.8 729.94 56.25 731.07 55.14 732.76 49.6 738.4 57.36 738.4M64.01 726.56 62.34 727.12 61.24 728.81 60.68 731.63 60.68 733.32 61.24 736.14 62.34 737.84 64.01 738.4 65.11 738.4 66.78 737.84 67.88 736.14 68.44 733.32 68.44 731.63 67.88 728.81 66.78 727.12 65.11 726.56 64.01 726.56M72.32 729.38 72.32 728.81 72.87 727.68 73.42 727.12 74.53 726.56 76.75 726.56 77.86 727.12 78.41 727.68 78.96 728.81 78.96 729.94 78.41 731.07 77.3 732.76 71.76 738.4 79.52 738.4M90.04 728.25 89.49 727.12 87.83 726.56 86.72 726.56 85.06 727.12 83.95 728.81 83.4 731.63 83.4 734.45 83.95 736.71 85.06 737.84 86.72 738.4 87.27 738.4 88.94 737.84 90.04 736.71 90.6 735.02 90.6 734.45 90.04 732.76 88.94 731.63 87.27 731.07 86.72 731.07 85.06 731.63 83.95 732.76 83.4 734.45M235.51 688.71 233.88 689.27 232.79 690.96 232.25 693.78 232.25 695.47 232.79 698.29 233.88 699.99 235.51 700.55 236.59 700.55 238.22 699.99 239.31 698.29 239.85 695.47 239.85 693.78 239.31 690.96 238.22 689.27 236.59 688.71 235.51 688.71M246.37 688.71 244.74 689.27 243.65 690.96 243.11 693.78 243.11 695.47 243.65 698.29 244.74 699.99 246.37 700.55 247.45 700.55 249.08 699.99 250.17 698.29 250.71 695.47 250.71 693.78 250.17 690.96 249.08 689.27 247.45 688.71 246.37 688.71M261.57 688.71 253.97 700.55M253.97 688.71 261.57 688.71M253.97 700.55 261.57 700.55M231.12 707.56 225.58 715.45 233.89 715.45M231.12 707.56 231.12 719.4M237.21 707.56 237.21 719.4M237.21 707.56 241.65 719.4M246.08 707.56 241.65 719.4M246.08 707.56 246.08 719.4M253.28 707.56 248.85 719.4M253.28 707.56 257.71 719.4M250.51 715.45 256.05 715.45M260.48 707.56 260.48 719.4M260.48 707.56 265.47 707.56 267.13 708.12 267.69 708.68 268.24 709.81 268.24 710.94 267.69 712.07 267.13 712.63 265.47 713.2 260.48 713.2M264.36 713.2 268.24 719.4M409.87 690.96 410.96 690.4 412.59 688.71 412.59 700.55M419.65 691.53 419.65 690.96 420.19 689.83 420.73 689.27 421.82 688.71 423.99 688.71 425.08 689.27 425.62 689.83 426.16 690.96 426.16 692.09 425.62 693.22 424.53 694.91 419.1 700.55 426.71 700.55M437.57 688.71 429.96 700.55M429.96 688.71 437.57 688.71M429.96 700.55 437.57 700.55M589.13 688.71 587.5 689.27 586.41 690.96 585.87 693.78 585.87 695.47 586.41 698.29 587.5 699.99 589.13 700.55 590.21 700.55 591.84 699.99 592.93 698.29 593.47 695.47 593.47 693.78 592.93 690.96 591.84 689.27 590.21 688.71 589.13 688.71M599.99 688.71 598.36 689.27 597.27 690.96 596.73 693.78 596.73 695.47 597.27 698.29 598.36 699.99 599.99 700.55 601.07 700.55 602.7 699.99 603.79 698.29 604.33 695.47 604.33 693.78 603.79 690.96 602.7 689.27 601.07 688.71 599.99 688.71M615.19 688.71 607.59 700.55M607.59 688.71 615.19 688.71M607.59 700.55 615.19 700.55M585.85 707.56 580.31 707.56 579.75 712.63 580.31 712.07 581.97 711.5 583.63 711.5 585.29 712.07 586.4 713.2 586.96 714.89 586.96 716.02 586.4 717.71 585.29 718.84 583.63 719.4 581.97 719.4 580.31 718.84 579.75 718.27 579.2 717.14M590.84 707.56 590.84 719.4M590.84 707.56 595.27 719.4M599.7 707.56 595.27 719.4M599.7 707.56 599.7 719.4M606.9 707.56 602.47 719.4M606.9 707.56 611.33 719.4M604.13 715.45 609.67 715.45M614.1 707.56 614.1 719.4M614.1 707.56 619.09 707.56 620.75 708.12 621.3 708.68 621.86 709.81 621.86 710.94 621.3 712.07 620.75 712.63 619.09 713.2 614.1 713.2M617.98 713.2 621.86 719.4M763.49 690.96 764.58 690.4 766.21 688.71 766.21 700.55M773.27 691.53 773.27 690.96 773.81 689.83 774.35 689.27 775.44 688.71 777.61 688.71 778.7 689.27 779.24 689.83 779.78 690.96 779.78 692.09 779.24 693.22 778.15 694.91 772.72 700.55 780.33 700.55M791.19 688.71 783.58 700.55M783.58 688.71 791.19 688.71M783.58 700.55 791.19 700.55M942.75 688.71 941.12 689.27 940.03 690.96 939.49 693.78 939.49 695.47 940.03 698.29 941.12 699.99 942.75 700.55 943.83 700.55 945.46 699.99 946.55 698.29 947.09 695.47 947.09 693.78 946.55 690.96 945.46 689.27 943.83 688.71 942.75 688.71M953.61 688.71 951.98 689.27 950.89 690.96 950.35 693.78 950.35 695.47 950.89 698.29 951.98 699.99 953.61 700.55 954.69 700.55 956.32 699.99 957.41 698.29 957.95 695.47 957.95 693.78 957.41 690.96 956.32 689.27 954.69 688.71 953.61 688.71M968.81 688.71 961.21 700.55M961.21 688.71 968.81 688.71M961.21 700.55 968.81 700.55M939.75 709.25 939.19 708.12 937.53 707.56 936.42 707.56 934.76 708.12 933.65 709.81 933.1 712.63 933.1 715.45 933.65 717.71 934.76 718.84 936.42 719.4 936.98 719.4 938.64 718.84 939.75 717.71 940.3 716.02 940.3 715.45 939.75 713.76 938.64 712.63 936.98 712.07 936.42 712.07 934.76 712.63 933.65 713.76 933.1 715.45M944.18 707.56 944.18 719.4M944.18 707.56 948.61 719.4M953.04 707.56 948.61 719.4M953.04 707.56 953.04 719.4M960.24 707.56 955.81 719.4M960.24 707.56 964.68 719.4M957.47 715.45 963.01 715.45M967.45 707.56 967.45 719.4M967.45 707.56 972.43 707.56 974.09 708.12 974.65 708.68 975.2 709.81 975.2 710.94 974.65 712.07 974.09 712.63 972.43 713.2 967.45 713.2M971.32 713.2 975.2 719.4" fill="none" stroke="#111" stroke-width="1.4" stroke-linecap="round" stroke-linejoin="round"/>
<path d="M361.7 741.72 361.7 758.1M361.7 741.72 374.01 741.72M361.7 749.52 369.27 749.52M382.53 747.18 380.64 747.96 378.74 749.52 377.8 751.86 377.8 753.42 378.74 755.76 380.64 757.32 382.53 758.1 385.37 758.1 387.27 757.32 389.16 755.76 390.11 753.42 390.11 751.86 389.16 749.52 387.27 747.96 385.37 747.18 382.53 747.18M396.73 747.18 396.73 758.1M396.73 751.86 397.68 749.52 399.57 747.96 401.47 747.18 404.31 747.18M408.1 751.86 419.46 751.86 419.46 750.3 418.51 748.74 417.57 747.96 415.67 747.18 412.83 747.18 410.94 747.96 409.04 749.52 408.1 751.86 408.1 753.42 409.04 755.76 410.94 757.32 412.83 758.1 415.67 758.1 417.57 757.32 419.46 755.76M436.5 749.52 434.61 747.96 432.72 747.18 429.88 747.18 427.98 747.96 426.09 749.52 425.14 751.86 425.14 753.42 426.09 755.76 427.98 757.32 429.88 758.1 432.72 758.1 434.61 757.32 436.5 755.76M453.55 747.18 453.55 758.1M453.55 749.52 451.65 747.96 449.76 747.18 446.92 747.18 445.02 747.96 443.13 749.52 442.18 751.86 442.18 753.42 443.13 755.76 445.02 757.32 446.92 758.1 449.76 758.1 451.65 757.32 453.55 755.76M470.59 749.52 469.64 747.96 466.8 747.18 463.96 747.18 461.12 747.96 460.17 749.52 461.12 751.08 463.02 751.86 467.75 752.64 469.64 753.42 470.59 754.98 470.59 755.76 469.64 757.32 466.8 758.1 463.96 758.1 461.12 757.32 460.17 755.76M478.17 741.72 478.17 754.98 479.11 757.32 481.01 758.1 482.9 758.1M475.32 747.18 481.95 747.18M509.88 741.72 509.88 758.1M503.7 741.72 516.05 741.72M519.58 741.72 520.46 742.5 521.35 741.72 520.46 740.94 519.58 741.72M520.46 747.18 520.46 758.1M527.52 747.18 527.52 758.1M527.52 750.3 530.17 747.96 531.94 747.18 534.58 747.18 536.35 747.96 537.23 750.3 537.23 758.1M537.23 750.3 539.88 747.96 541.64 747.18 544.29 747.18 546.05 747.96 546.94 750.3 546.94 758.1M553.11 751.86 563.7 751.86 563.7 750.3 562.82 748.74 561.94 747.96 560.17 747.18 557.52 747.18 555.76 747.96 553.99 749.52 553.11 751.86 553.11 753.42 553.99 755.76 555.76 757.32 557.52 758.1 560.17 758.1 561.94 757.32 563.7 755.76M594.03 738.6 592.13 740.16 590.24 742.5 588.35 745.62 587.4 749.52 587.4 752.64 588.35 756.54 590.24 759.66 592.13 762 594.03 763.56M600.66 741.72 600.66 753.42 601.6 755.76 603.5 757.32 606.34 758.1 608.23 758.1 611.07 757.32 612.96 755.76 613.91 753.42 613.91 741.72M625.27 741.72 625.27 758.1M618.65 741.72 631.9 741.72M649.89 745.62 648.94 744.06 647.05 742.5 645.16 741.72 641.37 741.72 639.48 742.5 637.58 744.06 636.64 745.62 635.69 747.96 635.69 751.86 636.64 754.2 637.58 755.76 639.48 757.32 641.37 758.1 645.16 758.1 647.05 757.32 648.94 755.76 649.89 754.2M655.57 738.6 657.47 740.16 659.36 742.5 661.25 745.62 662.2 749.52 662.2 752.64 661.25 756.54 659.36 759.66 657.47 762 655.57 763.56" fill="none" stroke="#000" stroke-width="2.6" stroke-linecap="round" stroke-linejoin="round"/>
<path d="M834.2 755.09 833.03 754.16 831.87 753.69 830.12 753.69 828.95 754.16 827.78 755.09 827.2 756.48 827.2 757.41 827.78 758.81 828.95 759.74 830.12 760.2 831.87 760.2 833.03 759.74 834.2 758.81M840.62 753.69 839.45 754.16 838.28 755.09 837.7 756.48 837.7 757.41 838.28 758.81 839.45 759.74 840.62 760.2 842.37 760.2 843.53 759.74 844.7 758.81 845.28 757.41 845.28 756.48 844.7 755.09 843.53 754.16 842.37 753.69 840.62 753.69M851.7 753.69 850.54 754.16 849.37 755.09 848.79 756.48 848.79 757.41 849.37 758.81 850.54 759.74 851.7 760.2 853.45 760.2 854.62 759.74 855.79 758.81 856.37 757.41 856.37 756.48 855.79 755.09 854.62 754.16 853.45 753.69 851.7 753.69M860.45 750.44 860.45 760.2M864.54 753.69 866.87 760.2M869.2 753.69 866.87 760.2M869.2 753.69 871.54 760.2M873.87 753.69 871.54 760.2M877.37 753.69 883.79 760.2M883.79 753.69 877.37 760.2M888.46 759.27 887.87 759.74 888.46 760.2 889.04 759.74 888.46 759.27M900.12 755.09 898.96 754.16 897.79 753.69 896.04 753.69 894.87 754.16 893.71 755.09 893.12 756.48 893.12 757.41 893.71 758.81 894.87 759.74 896.04 760.2 897.79 760.2 898.96 759.74 900.12 758.81M906.54 753.69 905.37 754.16 904.21 755.09 903.62 756.48 903.62 757.41 904.21 758.81 905.37 759.74 906.54 760.2 908.29 760.2 909.46 759.74 910.62 758.81 911.21 757.41 911.21 756.48 910.62 755.09 909.46 754.16 908.29 753.69 906.54 753.69M915.29 753.69 915.29 760.2M915.29 755.55 917.04 754.16 918.21 753.69 919.96 753.69 921.13 754.16 921.71 755.55 921.71 760.2M921.71 755.55 923.46 754.16 924.63 753.69 926.38 753.69 927.54 754.16 928.13 755.55 928.13 760.2M942.13 747.31 931.63 763.98M945.63 753.69 945.63 760.2M945.63 755.55 947.38 754.16 948.54 753.69 950.29 753.69 951.46 754.16 952.04 755.55 952.04 760.2M952.04 755.55 953.79 754.16 954.96 753.69 956.71 753.69 957.88 754.16 958.46 755.55 958.46 760.2M965.46 753.69 964.3 754.16 963.13 755.09 962.55 756.48 962.55 757.41 963.13 758.81 964.3 759.74 965.46 760.2 967.21 760.2 968.38 759.74 969.55 758.81 970.13 757.41 970.13 756.48 969.55 755.09 968.38 754.16 967.21 753.69 965.46 753.69M980.63 750.44 980.63 760.2M980.63 755.09 979.46 754.16 978.3 753.69 976.55 753.69 975.38 754.16 974.21 755.09 973.63 756.48 973.63 757.41 974.21 758.81 975.38 759.74 976.55 760.2 978.3 760.2 979.46 759.74 980.63 758.81M984.71 756.48 991.71 756.48 991.71 755.55 991.13 754.62 990.55 754.16 989.38 753.69 987.63 753.69 986.46 754.16 985.3 755.09 984.71 756.48 984.71 757.41 985.3 758.81 986.46 759.74 987.63 760.2 989.38 760.2 990.55 759.74 991.71 758.81M995.8 750.44 995.8 760.2M1001.05 750.44 1001.05 758.34 1001.63 759.74 1002.8 760.2 1003.97 760.2M999.3 753.69 1003.38 753.69M1013.3 755.09 1012.72 754.16 1010.97 753.69 1009.22 753.69 1007.47 754.16 1006.88 755.09 1007.47 756.02 1008.63 756.48 1011.55 756.95 1012.72 757.41 1013.3 758.34 1013.3 758.81 1012.72 759.74 1010.97 760.2 1009.22 760.2 1007.47 759.74 1006.88 758.81" fill="none" stroke="#ff3434" stroke-width="1.0" stroke-linecap="round" stroke-linejoin="round"/>
<rect x="959.65" y="103.2" width="17.05" height="17.82" fill="#ff00ff" stroke="#000" stroke-width="1.5"/>
<rect x="959.65" y="121.02" width="17.05" height="17.82" fill="#f00adc" stroke="#000" stroke-width="1.5"/>
<rect x="959.65" y="138.84" width="17.05" height="17.82" fill="#ff0096" stroke="#000" stroke-width="1.5"/>
<rect x="959.65" y="156.67" width="17.05" height="17.82" fill="#ff0082" stroke="#000" stroke-width="1.5"/>
<rect x="959.65" y="174.49" width="17.05" height="17.82" fill="#ff0064" stroke="#000" stroke-width="1.5"/>
<rect x="959.65" y="192.31" width="17.05" height="17.82" fill="#ff0032" stroke="#000" stroke-width="1.5"/>
<rect x="959.65" y="210.13" width="17.05" height="17.82" fill="#ff0a00" stroke="#000" stroke-width="1.5"/>
<rect x="959.65" y="227.96" width="17.05" height="17.82" fill="#ff3200" stroke="#000" stroke-width="1.5"/>
<rect x="959.65" y="245.78" width="17.05" height="17.82" fill="#ff6e00" stroke="#000" stroke-width="1.5"/>
<rect x="959.65" y="263.6" width="17.05" height="17.82" fill="#ff8c00" stroke="#000" stroke-width="1.5"/>
<rect x="959.65" y="281.42" width="17.05" height="17.82" fill="#ffa500" stroke="#000" stroke-width="1.5"/>
<rect x="959.65" y="299.25" width="17.05" height="17.82" fill="#ffbe00" stroke="#000" stroke-width="1.5"/>
<rect x="959.65" y="317.07" width="17.05" height="17.82" fill="#ffe100" stroke="#000" stroke-width="1.5"/>
<rect x="959.65" y="334.89" width="17.05" height="17.82" fill="#ffff00" stroke="#000" stroke-width="1.5"/>
<rect x="959.65" y="352.71" width="17.05" height="17.82" fill="#f0ff00" stroke="#000" stroke-width="1.5"/>
<rect x="959.65" y="370.54" width="17.05" height="17.82" fill="#96fa00" stroke="#000" stroke-width="1.5"/>
<rect x="959.65" y="388.36" width="17.05" height="17.82" fill="#46fa00" stroke="#000" stroke-width="1.5"/>
<rect x="959.65" y="406.18" width="17.05" height="17.82" fill="#00fa3c" stroke="#000" stroke-width="1.5"/>
<rect x="959.65" y="424" width="17.05" height="17.82" fill="#00fa82" stroke="#000" stroke-width="1.5"/>
<rect x="959.65" y="441.83" width="17.05" height="17.82" fill="#00faaa" stroke="#000" stroke-width="1.5"/>
<rect x="959.65" y="459.65" width="17.05" height="17.82" fill="#00ffdc" stroke="#000" stroke-width="1.5"/>
<rect x="959.65" y="477.47" width="17.05" height="17.82" fill="#00beff" stroke="#000" stroke-width="1.5"/>
<rect x="959.65" y="495.29" width="17.05" height="17.82" fill="#00a0ff" stroke="#000" stroke-width="1.5"/>
<rect x="959.65" y="513.12" width="17.05" height="17.82" fill="#0082ff" stroke="#000" stroke-width="1.5"/>
<rect x="959.65" y="530.94" width="17.05" height="17.82" fill="#0064ff" stroke="#000" stroke-width="1.5"/>
<rect x="959.65" y="548.76" width="17.05" height="17.82" fill="#0032ff" stroke="#000" stroke-width="1.5"/>
<rect x="959.65" y="566.58" width="17.05" height="17.82" fill="#0000ff" stroke="#000" stroke-width="1.5"/>
<rect x="959.65" y="584.41" width="17.05" height="17.82" fill="#4600f5" stroke="#000" stroke-width="1.5"/>
<rect x="959.65" y="602.23" width="17.05" height="17.82" fill="#6e00ff" stroke="#000" stroke-width="1.5"/>
<path d="M959.0 103.8L968.17 84.0L977.35 103.8Z" fill="#000000"/>
<path d="M959.65 620.05L968.17 637.25L976.7 620.05Z" fill="#8200ff" stroke="#000" stroke-width="1.5" stroke-linejoin="miter"/>
<path d="M983.75 100.11 984.72 99.63 986.17 98.2 986.17 108.2M997.79 98.2 992.95 98.2 992.47 102.49 992.95 102.01 994.4 101.53 995.85 101.53 997.31 102.01 998.27 102.96 998.76 104.39 998.76 105.34 998.27 106.77 997.31 107.72 995.85 108.2 994.4 108.2 992.95 107.72 992.47 107.25 991.98 106.29M1004.57 98.2 1003.11 98.68 1002.15 100.11 1001.66 102.49 1001.66 103.91 1002.15 106.29 1003.11 107.72 1004.57 108.2 1005.53 108.2 1006.99 107.72 1007.95 106.29 1008.44 103.91 1008.44 102.49 1007.95 100.11 1006.99 98.68 1005.53 98.2 1004.57 98.2M983.75 117.93 984.72 117.45 986.17 116.02 986.17 126.02M996.82 116.02 991.98 122.69 999.24 122.69M996.82 116.02 996.82 126.02M1007.47 116.02 1002.63 116.02 1002.15 120.31 1002.63 119.83 1004.08 119.36 1005.53 119.36 1006.99 119.83 1007.95 120.78 1008.44 122.21 1008.44 123.16 1007.95 124.59 1006.99 125.54 1005.53 126.02 1004.08 126.02 1002.63 125.54 1002.15 125.07 1001.66 124.12M983.75 135.75 984.72 135.27 986.17 133.85 986.17 143.84M996.82 133.85 991.98 140.51 999.24 140.51M996.82 133.85 996.82 143.84M1004.57 133.85 1003.11 134.32 1002.15 135.75 1001.66 138.13 1001.66 139.56 1002.15 141.94 1003.11 143.37 1004.57 143.84 1005.53 143.84 1006.99 143.37 1007.95 141.94 1008.44 139.56 1008.44 138.13 1007.95 135.75 1006.99 134.32 1005.53 133.85 1004.57 133.85M983.75 153.57 984.72 153.1 986.17 151.67 986.17 161.67M992.95 151.67 998.27 151.67 995.37 155.48 996.82 155.48 997.79 155.95 998.27 156.43 998.76 157.86 998.76 158.81 998.27 160.24 997.31 161.19 995.85 161.67 994.4 161.67 992.95 161.19 992.47 160.71 991.98 159.76M1007.47 151.67 1002.63 151.67 1002.15 155.95 1002.63 155.48 1004.08 155 1005.53 155 1006.99 155.48 1007.95 156.43 1008.44 157.86 1008.44 158.81 1007.95 160.24 1006.99 161.19 1005.53 161.67 1004.08 161.67 1002.63 161.19 1002.15 160.71 1001.66 159.76M983.75 171.4 984.72 170.92 986.17 169.49 986.17 179.49M992.95 169.49 998.27 169.49 995.37 173.3 996.82 173.3 997.79 173.78 998.27 174.25 998.76 175.68 998.76 176.63 998.27 178.06 997.31 179.01 995.85 179.49 994.4 179.49 992.95 179.01 992.47 178.54 991.98 177.58M1004.57 169.49 1003.11 169.97 1002.15 171.4 1001.66 173.78 1001.66 175.2 1002.15 177.58 1003.11 179.01 1004.57 179.49 1005.53 179.49 1006.99 179.01 1007.95 177.58 1008.44 175.2 1008.44 173.78 1007.95 171.4 1006.99 169.97 1005.53 169.49 1004.57 169.49M983.75 189.22 984.72 188.74 986.17 187.31 986.17 197.31M992.47 189.69 992.47 189.22 992.95 188.27 993.43 187.79 994.4 187.31 996.34 187.31 997.31 187.79 997.79 188.27 998.27 189.22 998.27 190.17 997.79 191.12 996.82 192.55 991.98 197.31 998.76 197.31M1007.47 187.31 1002.63 187.31 1002.15 191.6 1002.63 191.12 1004.08 190.65 1005.53 190.65 1006.99 191.12 1007.95 192.07 1008.44 193.5 1008.44 194.45 1007.95 195.88 1006.99 196.83 1005.53 197.31 1004.08 197.31 1002.63 196.83 1002.15 196.36 1001.66 195.41M983.75 207.04 984.72 206.56 986.17 205.14 986.17 215.13M992.47 207.52 992.47 207.04 992.95 206.09 993.43 205.61 994.4 205.14 996.34 205.14 997.31 205.61 997.79 206.09 998.27 207.04 998.27 207.99 997.79 208.94 996.82 210.37 991.98 215.13 998.76 215.13M1004.57 205.14 1003.11 205.61 1002.15 207.04 1001.66 209.42 1001.66 210.85 1002.15 213.23 1003.11 214.66 1004.57 215.13 1005.53 215.13 1006.99 214.66 1007.95 213.23 1008.44 210.85 1008.44 209.42 1007.95 207.04 1006.99 205.61 1005.53 205.14 1004.57 205.14M983.75 224.86 984.72 224.39 986.17 222.96 986.17 232.95M993.43 224.86 994.4 224.39 995.85 222.96 995.85 232.95M1007.47 222.96 1002.63 222.96 1002.15 227.24 1002.63 226.77 1004.08 226.29 1005.53 226.29 1006.99 226.77 1007.95 227.72 1008.44 229.15 1008.44 230.1 1007.95 231.53 1006.99 232.48 1005.53 232.95 1004.08 232.95 1002.63 232.48 1002.15 232 1001.66 231.05M983.75 242.69 984.72 242.21 986.17 240.78 986.17 250.78M993.43 242.69 994.4 242.21 995.85 240.78 995.85 250.78M1004.57 240.78 1003.11 241.26 1002.15 242.69 1001.66 245.07 1001.66 246.49 1002.15 248.87 1003.11 250.3 1004.57 250.78 1005.53 250.78 1006.99 250.3 1007.95 248.87 1008.44 246.49 1008.44 245.07 1007.95 242.69 1006.99 241.26 1005.53 240.78 1004.57 240.78M983.75 260.51 984.72 260.03 986.17 258.6 986.17 268.6M994.89 258.6 993.43 259.08 992.47 260.51 991.98 262.89 991.98 264.32 992.47 266.7 993.43 268.12 994.89 268.6 995.85 268.6 997.31 268.12 998.27 266.7 998.76 264.32 998.76 262.89 998.27 260.51 997.31 259.08 995.85 258.6 994.89 258.6M1007.47 258.6 1002.63 258.6 1002.15 262.89 1002.63 262.41 1004.08 261.94 1005.53 261.94 1006.99 262.41 1007.95 263.36 1008.44 264.79 1008.44 265.74 1007.95 267.17 1006.99 268.12 1005.53 268.6 1004.08 268.6 1002.63 268.12 1002.15 267.65 1001.66 266.7M983.75 278.33 984.72 277.85 986.17 276.43 986.17 286.42M994.89 276.43 993.43 276.9 992.47 278.33 991.98 280.71 991.98 282.14 992.47 284.52 993.43 285.95 994.89 286.42 995.85 286.42 997.31 285.95 998.27 284.52 998.76 282.14 998.76 280.71 998.27 278.33 997.31 276.9 995.85 276.43 994.89 276.43M1004.57 276.43 1003.11 276.9 1002.15 278.33 1001.66 280.71 1001.66 282.14 1002.15 284.52 1003.11 285.95 1004.57 286.42 1005.53 286.42 1006.99 285.95 1007.95 284.52 1008.44 282.14 1008.44 280.71 1007.95 278.33 1006.99 276.9 1005.53 276.43 1004.57 276.43M988.59 297.58 988.11 299.01 987.14 299.96 985.69 300.44 985.21 300.44 983.75 299.96 982.79 299.01 982.3 297.58 982.3 297.1 982.79 295.68 983.75 294.72 985.21 294.25 985.69 294.25 987.14 294.72 988.11 295.68 988.59 297.58 988.59 299.96 988.11 302.34 987.14 303.77 985.69 304.24 984.72 304.24 983.27 303.77 982.79 302.82M997.79 294.25 992.95 294.25 992.47 298.53 992.95 298.06 994.4 297.58 995.85 297.58 997.31 298.06 998.27 299.01 998.76 300.44 998.76 301.39 998.27 302.82 997.31 303.77 995.85 304.24 994.4 304.24 992.95 303.77 992.47 303.29 991.98 302.34M988.59 315.4 988.11 316.83 987.14 317.78 985.69 318.26 985.21 318.26 983.75 317.78 982.79 316.83 982.3 315.4 982.3 314.93 982.79 313.5 983.75 312.55 985.21 312.07 985.69 312.07 987.14 312.55 988.11 313.5 988.59 315.4 988.59 317.78 988.11 320.16 987.14 321.59 985.69 322.07 984.72 322.07 983.27 321.59 982.79 320.64M994.89 312.07 993.43 312.55 992.47 313.97 991.98 316.35 991.98 317.78 992.47 320.16 993.43 321.59 994.89 322.07 995.85 322.07 997.31 321.59 998.27 320.16 998.76 317.78 998.76 316.35 998.27 313.97 997.31 312.55 995.85 312.07 994.89 312.07M984.72 329.89 983.27 330.37 982.79 331.32 982.79 332.27 983.27 333.23 984.24 333.7 986.17 334.18 987.63 334.65 988.59 335.61 989.08 336.56 989.08 337.99 988.59 338.94 988.11 339.41 986.66 339.89 984.72 339.89 983.27 339.41 982.79 338.94 982.3 337.99 982.3 336.56 982.79 335.61 983.75 334.65 985.21 334.18 987.14 333.7 988.11 333.23 988.59 332.27 988.59 331.32 988.11 330.37 986.66 329.89 984.72 329.89M997.79 329.89 992.95 329.89 992.47 334.18 992.95 333.7 994.4 333.23 995.85 333.23 997.31 333.7 998.27 334.65 998.76 336.08 998.76 337.03 998.27 338.46 997.31 339.41 995.85 339.89 994.4 339.89 992.95 339.41 992.47 338.94 991.98 337.99M984.72 347.72 983.27 348.19 982.79 349.14 982.79 350.1 983.27 351.05 984.24 351.52 986.17 352 987.63 352.48 988.59 353.43 989.08 354.38 989.08 355.81 988.59 356.76 988.11 357.24 986.66 357.71 984.72 357.71 983.27 357.24 982.79 356.76 982.3 355.81 982.3 354.38 982.79 353.43 983.75 352.48 985.21 352 987.14 351.52 988.11 351.05 988.59 350.1 988.59 349.14 988.11 348.19 986.66 347.72 984.72 347.72M994.89 347.72 993.43 348.19 992.47 349.62 991.98 352 991.98 353.43 992.47 355.81 993.43 357.24 994.89 357.71 995.85 357.71 997.31 357.24 998.27 355.81 998.76 353.43 998.76 352 998.27 349.62 997.31 348.19 995.85 347.72 994.89 347.72M989.08 365.54 984.24 375.53M982.3 365.54 989.08 365.54M997.79 365.54 992.95 365.54 992.47 369.82 992.95 369.35 994.4 368.87 995.85 368.87 997.31 369.35 998.27 370.3 998.76 371.73 998.76 372.68 998.27 374.11 997.31 375.06 995.85 375.53 994.4 375.53 992.95 375.06 992.47 374.58 991.98 373.63M989.08 383.36 984.24 393.36M982.3 383.36 989.08 383.36M994.89 383.36 993.43 383.84 992.47 385.26 991.98 387.64 991.98 389.07 992.47 391.45 993.43 392.88 994.89 393.36 995.85 393.36 997.31 392.88 998.27 391.45 998.76 389.07 998.76 387.64 998.27 385.26 997.31 383.84 995.85 383.36 994.89 383.36M988.59 402.61 988.11 401.66 986.66 401.18 985.69 401.18 984.24 401.66 983.27 403.09 982.79 405.47 982.79 407.85 983.27 409.75 984.24 410.7 985.69 411.18 986.17 411.18 987.63 410.7 988.59 409.75 989.08 408.32 989.08 407.85 988.59 406.42 987.63 405.47 986.17 404.99 985.69 404.99 984.24 405.47 983.27 406.42 982.79 407.85M997.79 401.18 992.95 401.18 992.47 405.47 992.95 404.99 994.4 404.52 995.85 404.52 997.31 404.99 998.27 405.94 998.76 407.37 998.76 408.32 998.27 409.75 997.31 410.7 995.85 411.18 994.4 411.18 992.95 410.7 992.47 410.23 991.98 409.28M988.59 420.43 988.11 419.48 986.66 419.01 985.69 419.01 984.24 419.48 983.27 420.91 982.79 423.29 982.79 425.67 983.27 427.57 984.24 428.53 985.69 429 986.17 429 987.63 428.53 988.59 427.57 989.08 426.15 989.08 425.67 988.59 424.24 987.63 423.29 986.17 422.81 985.69 422.81 984.24 423.29 983.27 424.24 982.79 425.67M994.89 419.01 993.43 419.48 992.47 420.91 991.98 423.29 991.98 424.72 992.47 427.1 993.43 428.53 994.89 429 995.85 429 997.31 428.53 998.27 427.1 998.76 424.72 998.76 423.29 998.27 420.91 997.31 419.48 995.85 419.01 994.89 419.01M988.11 436.83 983.27 436.83 982.79 441.11 983.27 440.64 984.72 440.16 986.17 440.16 987.63 440.64 988.59 441.59 989.08 443.02 989.08 443.97 988.59 445.4 987.63 446.35 986.17 446.82 984.72 446.82 983.27 446.35 982.79 445.87 982.3 444.92M997.79 436.83 992.95 436.83 992.47 441.11 992.95 440.64 994.4 440.16 995.85 440.16 997.31 440.64 998.27 441.59 998.76 443.02 998.76 443.97 998.27 445.4 997.31 446.35 995.85 446.82 994.4 446.82 992.95 446.35 992.47 445.87 991.98 444.92M988.11 454.65 983.27 454.65 982.79 458.93 983.27 458.46 984.72 457.98 986.17 457.98 987.63 458.46 988.59 459.41 989.08 460.84 989.08 461.79 988.59 463.22 987.63 464.17 986.17 464.65 984.72 464.65 983.27 464.17 982.79 463.69 982.3 462.74M994.89 454.65 993.43 455.13 992.47 456.55 991.98 458.93 991.98 460.36 992.47 462.74 993.43 464.17 994.89 464.65 995.85 464.65 997.31 464.17 998.27 462.74 998.76 460.36 998.76 458.93 998.27 456.55 997.31 455.13 995.85 454.65 994.89 454.65M987.14 472.47 982.3 479.14 989.56 479.14M987.14 472.47 987.14 482.47M997.79 472.47 992.95 472.47 992.47 476.76 992.95 476.28 994.4 475.8 995.85 475.8 997.31 476.28 998.27 477.23 998.76 478.66 998.76 479.61 998.27 481.04 997.31 481.99 995.85 482.47 994.4 482.47 992.95 481.99 992.47 481.52 991.98 480.56M987.14 490.3 982.3 496.96 989.56 496.96M987.14 490.3 987.14 500.29M994.89 490.3 993.43 490.77 992.47 492.2 991.98 494.58 991.98 496.01 992.47 498.39 993.43 499.82 994.89 500.29 995.85 500.29 997.31 499.82 998.27 498.39 998.76 496.01 998.76 494.58 998.27 492.2 997.31 490.77 995.85 490.3 994.89 490.3M983.27 508.12 988.59 508.12 985.69 511.93 987.14 511.93 988.11 512.4 988.59 512.88 989.08 514.31 989.08 515.26 988.59 516.69 987.63 517.64 986.17 518.11 984.72 518.11 983.27 517.64 982.79 517.16 982.3 516.21M997.79 508.12 992.95 508.12 992.47 512.4 992.95 511.93 994.4 511.45 995.85 511.45 997.31 511.93 998.27 512.88 998.76 514.31 998.76 515.26 998.27 516.69 997.31 517.64 995.85 518.11 994.4 518.11 992.95 517.64 992.47 517.16 991.98 516.21M983.27 525.94 988.59 525.94 985.69 529.75 987.14 529.75 988.11 530.22 988.59 530.7 989.08 532.13 989.08 533.08 988.59 534.51 987.63 535.46 986.17 535.94 984.72 535.94 983.27 535.46 982.79 534.98 982.3 534.03M994.89 525.94 993.43 526.42 992.47 527.84 991.98 530.22 991.98 531.65 992.47 534.03 993.43 535.46 994.89 535.94 995.85 535.94 997.31 535.46 998.27 534.03 998.76 531.65 998.76 530.22 998.27 527.84 997.31 526.42 995.85 525.94 994.89 525.94M982.79 546.14 982.79 545.67 983.27 544.71 983.75 544.24 984.72 543.76 986.66 543.76 987.63 544.24 988.11 544.71 988.59 545.67 988.59 546.62 988.11 547.57 987.14 549 982.3 553.76 989.08 553.76M997.79 543.76 992.95 543.76 992.47 548.05 992.95 547.57 994.4 547.09 995.85 547.09 997.31 547.57 998.27 548.52 998.76 549.95 998.76 550.9 998.27 552.33 997.31 553.28 995.85 553.76 994.4 553.76 992.95 553.28 992.47 552.81 991.98 551.85M982.79 563.96 982.79 563.49 983.27 562.54 983.75 562.06 984.72 561.58 986.66 561.58 987.63 562.06 988.11 562.54 988.59 563.49 988.59 564.44 988.11 565.39 987.14 566.82 982.3 571.58 989.08 571.58M994.89 561.58 993.43 562.06 992.47 563.49 991.98 565.87 991.98 567.3 992.47 569.68 993.43 571.1 994.89 571.58 995.85 571.58 997.31 571.1 998.27 569.68 998.76 567.3 998.76 565.87 998.27 563.49 997.31 562.06 995.85 561.58 994.89 561.58M983.75 581.31 984.72 580.84 986.17 579.41 986.17 589.4M997.79 579.41 992.95 579.41 992.47 583.69 992.95 583.22 994.4 582.74 995.85 582.74 997.31 583.22 998.27 584.17 998.76 585.6 998.76 586.55 998.27 587.98 997.31 588.93 995.85 589.4 994.4 589.4 992.95 588.93 992.47 588.45 991.98 587.5M983.75 599.13 984.72 598.66 986.17 597.23 986.17 607.23M994.89 597.23 993.43 597.71 992.47 599.13 991.98 601.51 991.98 602.94 992.47 605.32 993.43 606.75 994.89 607.23 995.85 607.23 997.31 606.75 998.27 605.32 998.76 602.94 998.76 601.51 998.27 599.13 997.31 597.71 995.85 597.23 994.89 597.23M988.11 615.05 983.27 615.05 982.79 619.34 983.27 618.86 984.72 618.38 986.17 618.38 987.63 618.86 988.59 619.81 989.08 621.24 989.08 622.19 988.59 623.62 987.63 624.57 986.17 625.05 984.72 625.05 983.27 624.57 982.79 624.1 982.3 623.14" fill="none" stroke="#000" stroke-width="1.65" stroke-linecap="round" stroke-linejoin="round"/>
</svg>
<h1 class="t" style="left:82px;top:6px;font-size:24px;font-weight:normal">2026030312 NAM3KM forecast wind profile (kt) for KLBB</h1>
<span class="t" style="left:20px;top:38px;font-size:14px">200</span>
<span class="t" style="left:20px;top:123.13px;font-size:14px">250</span>
<span class="t" style="left:20px;top:192.68px;font-size:14px">300</span>
<span class="t" style="left:20px;top:251.49px;font-size:14px">350</span>
<span class="t" style="left:20px;top:302.44px;font-size:14px">400</span>
<span class="t" style="left:20px;top:347.37px;font-size:14px">450</span>
<span class="t" style="left:20px;top:387.56px;font-size:14px">500</span>
<span class="t" style="left:20px;top:423.93px;font-size:14px">550</span>
<span class="t" style="left:20px;top:457.12px;font-size:14px">600</span>
<span class="t" style="left:20px;top:487.66px;font-size:14px">650</span>
<span class="t" style="left:20px;top:515.93px;font-size:14px">700</span>
<span class="t" style="left:20px;top:542.25px;font-size:14px">750</span>
<span class="t" style="left:20px;top:566.87px;font-size:14px">800</span>
<span class="t" style="left:20px;top:590px;font-size:14px">850</span>
<span class="t" style="left:20px;top:611.81px;font-size:14px">900</span>
<span class="t" style="left:20px;top:632.43px;font-size:14px">950</span>
<span class="t" style="left:20px;top:652px;font-size:14px">1000</span>
<span class="t" style="left:50px;top:688px;font-size:13px">12Z</span>
<span class="t" style="left:50px;top:707px;font-size:13px">3MAR</span>
<span class="t" style="left:50px;top:726px;font-size:13px">2026</span>
<span class="t" style="left:226.81px;top:688px;font-size:13px">00Z</span>
<span class="t" style="left:226.81px;top:707px;font-size:13px">4MAR</span>
<span class="t" style="left:403.62px;top:688px;font-size:13px">12Z</span>
<span class="t" style="left:580.43px;top:688px;font-size:13px">00Z</span>
<span class="t" style="left:580.43px;top:707px;font-size:13px">5MAR</span>
<span class="t" style="left:757.24px;top:688px;font-size:13px">12Z</span>
<span class="t" style="left:934.05px;top:688px;font-size:13px">00Z</span>
<span class="t" style="left:934.05px;top:707px;font-size:13px">6MAR</span>
<span class="t" style="left:360px;top:740px;font-size:20px">Forecast Time (UTC)</span>
<span class="t" style="left:827px;top:750px;font-size:11px">coolwx.com/modelts</span>
<span class="t" style="left:983px;top:98.2px;font-size:10px">150</span>
<span class="t" style="left:983px;top:116.02px;font-size:10px">145</span>
<span class="t" style="left:983px;top:133.84px;font-size:10px">140</span>
<span class="t" style="left:983px;top:151.67px;font-size:10px">135</span>
<span class="t" style="left:983px;top:169.49px;font-size:10px">130</span>
<span class="t" style="left:983px;top:187.31px;font-size:10px">125</span>
<span class="t" style="left:983px;top:205.13px;font-size:10px">120</span>
<span class="t" style="left:983px;top:222.96px;font-size:10px">115</span>
<span class="t" style="left:983px;top:240.78px;font-size:10px">110</span>
<span class="t" style="left:983px;top:258.6px;font-size:10px">105</span>
<span class="t" style="left:983px;top:276.42px;font-size:10px">100</span>
<span class="t" style="left:983px;top:294.25px;font-size:10px">95</span>
<span class="t" style="left:983px;top:312.07px;font-size:10px">90</span>
<span class="t" style="left:983px;top:329.89px;font-size:10px">85</span>
<span class="t" style="left:983px;top:347.71px;font-size:10px">80</span>
<span class="t" style="left:983px;top:365.54px;font-size:10px">75</span>
<span class="t" style="left:983px;top:383.36px;font-size:10px">70</span>
<span class="t" style="left:983px;top:401.18px;font-size:10px">65</span>
<span class="t" style="left:983px;top:419px;font-size:10px">60</span>
<span class="t" style="left:983px;top:436.83px;font-size:10px">55</span>
<span class="t" style="left:983px;top:454.65px;font-size:10px">50</span>
<span class="t" style="left:983px;top:472.47px;font-size:10px">45</span>
<span class="t" style="left:983px;top:490.29px;font-size:10px">40</span>
<span class="t" style="left:983px;top:508.12px;font-size:10px">35</span>
<span class="t" style="left:983px;top:525.94px;font-size:10px">30</span>
<span class="t" style="left:983px;top:543.76px;font-size:10px">25</span>
<span class="t" style="left:983px;top:561.58px;font-size:10px">20</span>
<span class="t" style="left:983px;top:579.41px;font-size:10px">15</span>
<span class="t" style="left:983px;top:597.23px;font-size:10px">10</span>
<span class="t" style="left:983px;top:615.05px;font-size:10px">5</span>
</body></html>
